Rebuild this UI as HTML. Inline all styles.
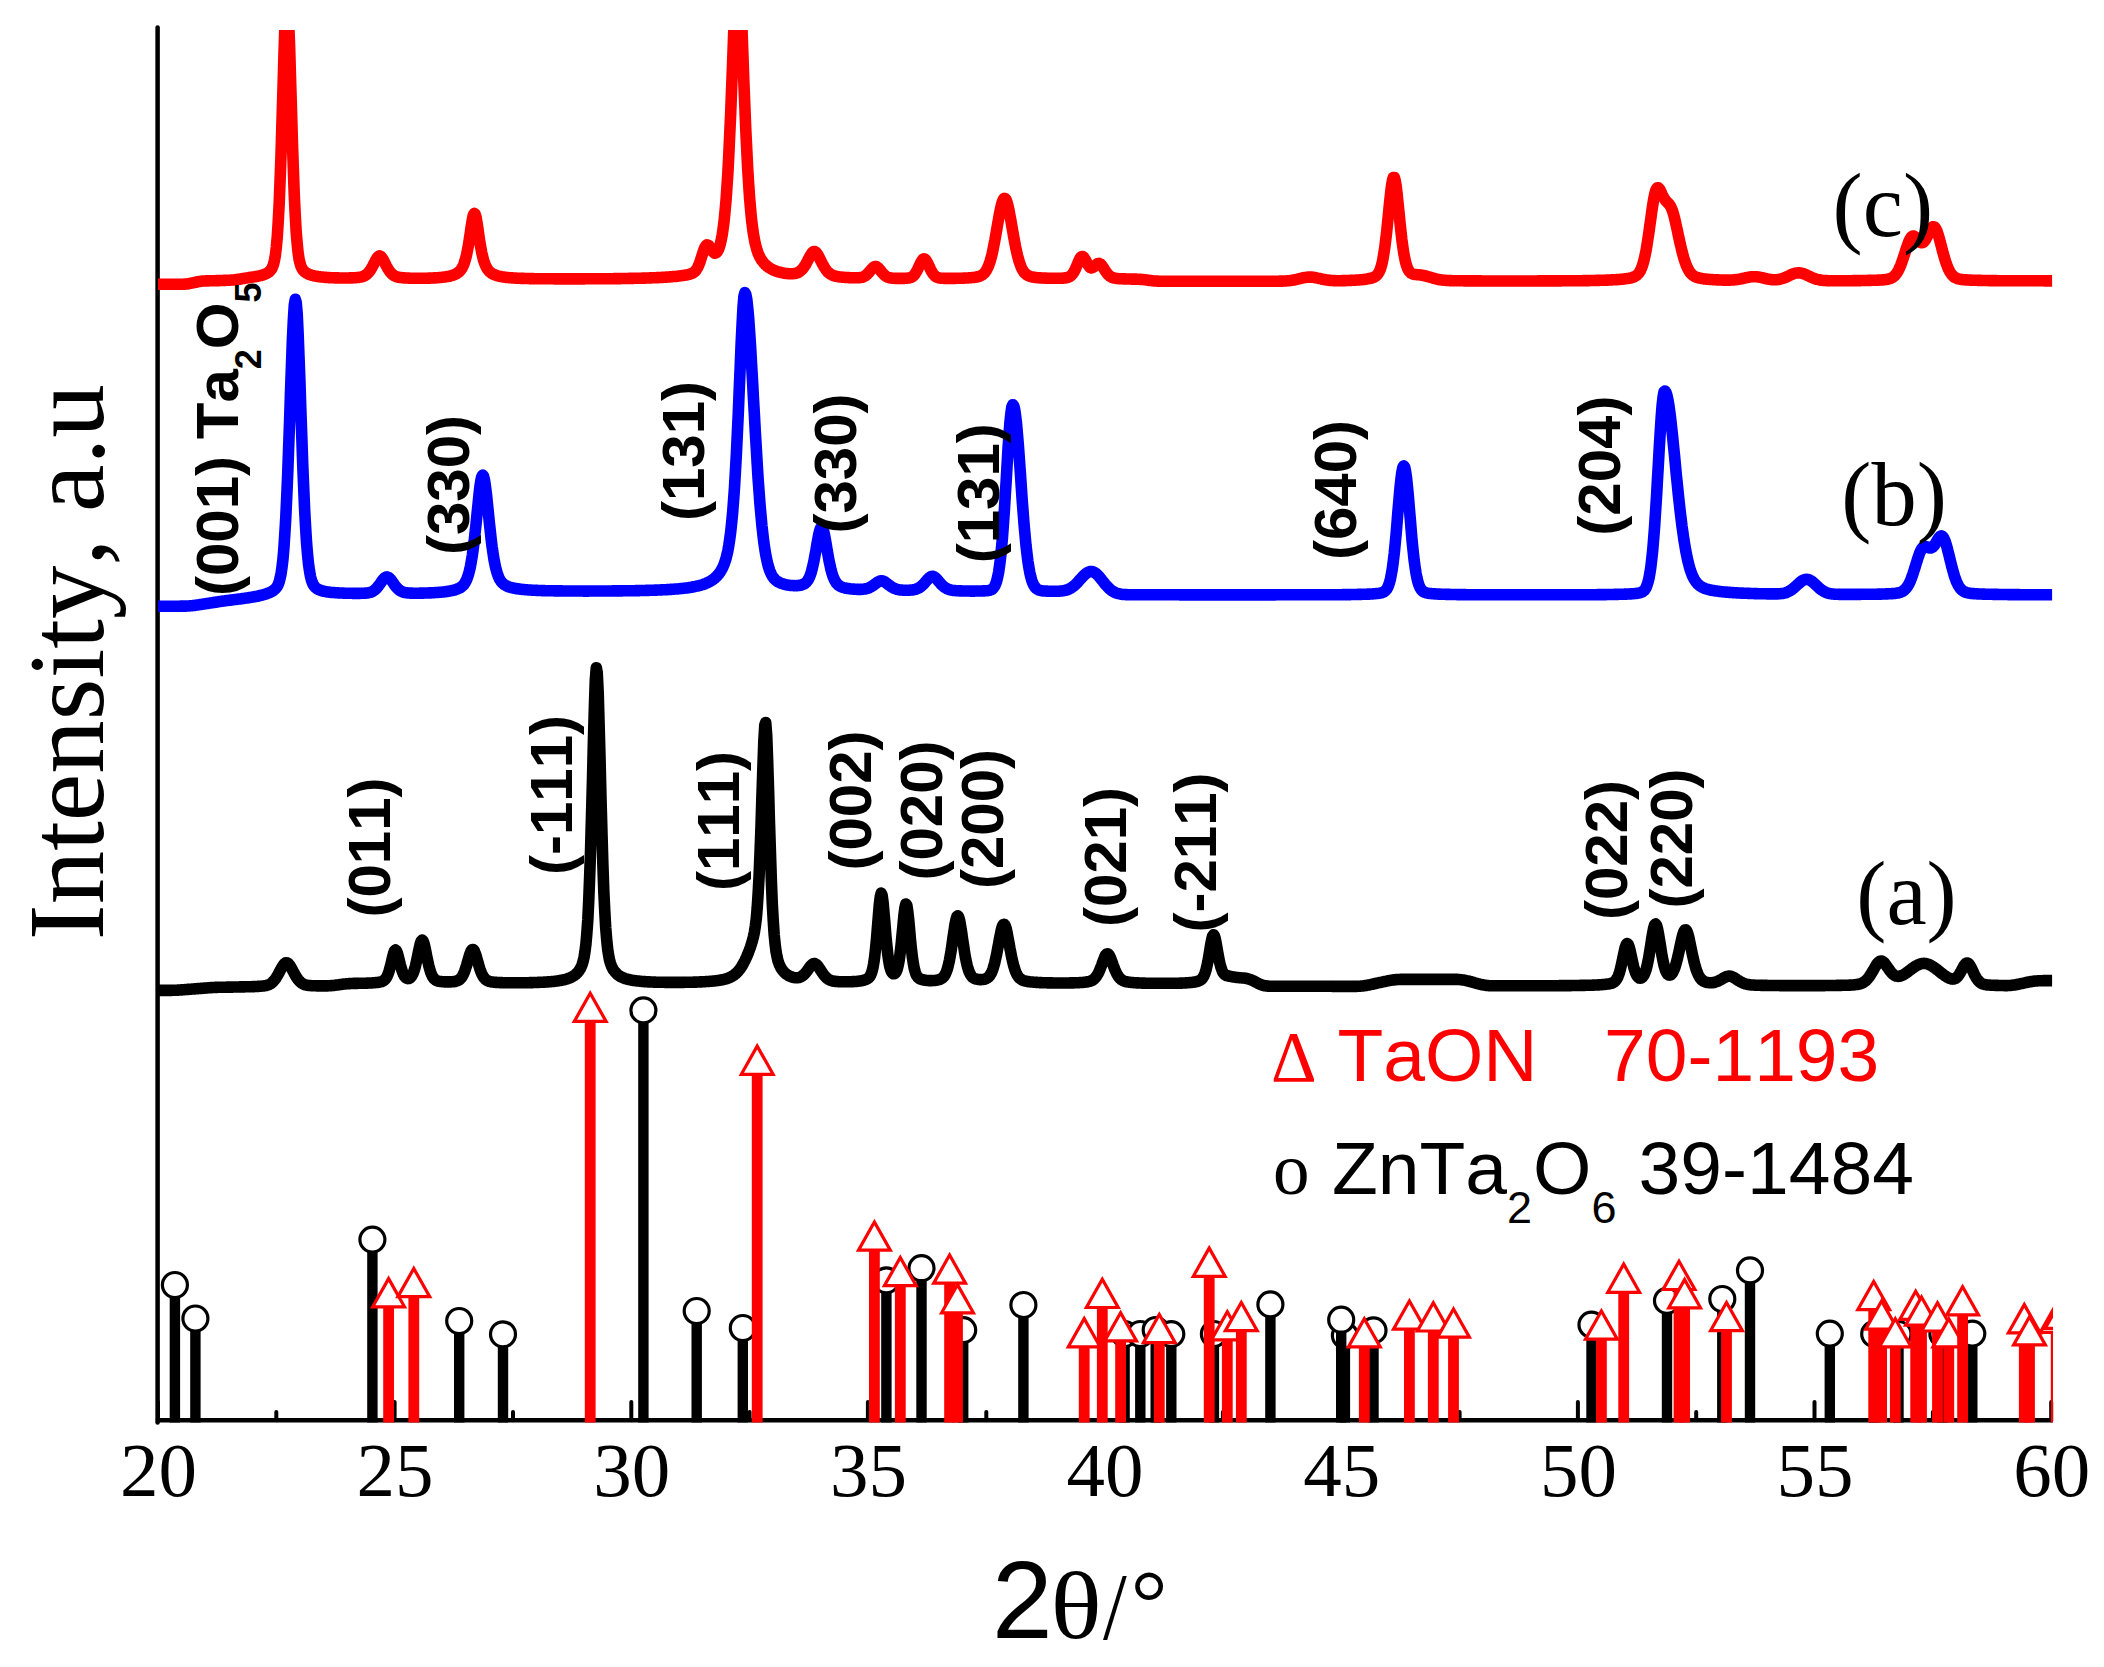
<!DOCTYPE html>
<html><head><meta charset="utf-8"><title>XRD</title>
<style>html,body{margin:0;padding:0;background:#fff}svg{display:block}text{font-kerning:none}</style></head>
<body>
<svg width="2104" height="1667" viewBox="0 0 2104 1667">
<defs><clipPath id="cp"><rect x="150" y="30" width="1902.9" height="1400"/></clipPath></defs>
<rect width="2104" height="1667" fill="#fff"/>
<g stroke="#000" stroke-width="4" stroke-linecap="round">
<line x1="158.0" y1="1420.2" x2="158.0" y2="1402.0"/>
<line x1="276.3" y1="1420.2" x2="276.3" y2="1412.0"/>
<line x1="394.6" y1="1420.2" x2="394.6" y2="1402.0"/>
<line x1="513.0" y1="1420.2" x2="513.0" y2="1412.0"/>
<line x1="631.3" y1="1420.2" x2="631.3" y2="1402.0"/>
<line x1="749.6" y1="1420.2" x2="749.6" y2="1412.0"/>
<line x1="867.9" y1="1420.2" x2="867.9" y2="1402.0"/>
<line x1="986.3" y1="1420.2" x2="986.3" y2="1412.0"/>
<line x1="1104.6" y1="1420.2" x2="1104.6" y2="1402.0"/>
<line x1="1222.9" y1="1420.2" x2="1222.9" y2="1412.0"/>
<line x1="1341.2" y1="1420.2" x2="1341.2" y2="1402.0"/>
<line x1="1459.6" y1="1420.2" x2="1459.6" y2="1412.0"/>
<line x1="1577.9" y1="1420.2" x2="1577.9" y2="1402.0"/>
<line x1="1696.2" y1="1420.2" x2="1696.2" y2="1412.0"/>
<line x1="1814.5" y1="1420.2" x2="1814.5" y2="1402.0"/>
<line x1="1932.9" y1="1420.2" x2="1932.9" y2="1412.0"/>
<line x1="2051.2" y1="1420.2" x2="2051.2" y2="1402.0"/>
</g>
<line x1="157.6" y1="27.5" x2="157.6" y2="1422.5" stroke="#000" stroke-width="4.5" stroke-linecap="round"/>
<line x1="155.8" y1="1420.2" x2="2052.5" y2="1420.2" stroke="#000" stroke-width="4.6"/>
<g clip-path="url(#cp)">
<rect x="169.7" y="1297.0" width="10.4" height="125.5" fill="#000"/>
<circle cx="174.9" cy="1285.0" r="12.5" fill="#fff" stroke="#000" stroke-width="3.2"/>
<rect x="190.2" y="1330.5" width="10.4" height="92.0" fill="#000"/>
<circle cx="195.4" cy="1318.5" r="12.5" fill="#fff" stroke="#000" stroke-width="3.2"/>
<rect x="367.2" y="1251.6" width="10.4" height="170.9" fill="#000"/>
<circle cx="372.4" cy="1239.6" r="12.5" fill="#fff" stroke="#000" stroke-width="3.2"/>
<rect x="454.0" y="1333.0" width="10.4" height="89.5" fill="#000"/>
<circle cx="459.2" cy="1321.0" r="12.5" fill="#fff" stroke="#000" stroke-width="3.2"/>
<rect x="497.8" y="1346.3" width="10.4" height="76.2" fill="#000"/>
<circle cx="503.0" cy="1334.3" r="12.5" fill="#fff" stroke="#000" stroke-width="3.2"/>
<rect x="638.2" y="1022.4" width="10.4" height="400.1" fill="#000"/>
<circle cx="643.4" cy="1010.4" r="12.5" fill="#fff" stroke="#000" stroke-width="3.2"/>
<rect x="691.5" y="1323.0" width="10.4" height="99.5" fill="#000"/>
<circle cx="696.7" cy="1311.0" r="12.5" fill="#fff" stroke="#000" stroke-width="3.2"/>
<rect x="737.6" y="1340.0" width="10.4" height="82.5" fill="#000"/>
<circle cx="742.8" cy="1328.0" r="12.5" fill="#fff" stroke="#000" stroke-width="3.2"/>
<rect x="881.2" y="1292.3" width="10.4" height="130.2" fill="#000"/>
<circle cx="886.4" cy="1280.3" r="12.5" fill="#fff" stroke="#000" stroke-width="3.2"/>
<rect x="916.3" y="1280.2" width="10.4" height="142.3" fill="#000"/>
<circle cx="921.5" cy="1268.2" r="12.5" fill="#fff" stroke="#000" stroke-width="3.2"/>
<rect x="958.0" y="1342.1" width="10.4" height="80.4" fill="#000"/>
<circle cx="963.2" cy="1330.1" r="12.5" fill="#fff" stroke="#000" stroke-width="3.2"/>
<rect x="1018.2" y="1317.0" width="10.4" height="105.5" fill="#000"/>
<circle cx="1023.4" cy="1305.0" r="12.5" fill="#fff" stroke="#000" stroke-width="3.2"/>
<rect x="1119.4" y="1346.0" width="10.4" height="76.5" fill="#000"/>
<circle cx="1124.6" cy="1334.0" r="12.5" fill="#fff" stroke="#000" stroke-width="3.2"/>
<rect x="1135.1" y="1346.0" width="10.4" height="76.5" fill="#000"/>
<circle cx="1140.3" cy="1334.0" r="12.5" fill="#fff" stroke="#000" stroke-width="3.2"/>
<rect x="1150.5" y="1342.0" width="10.4" height="80.5" fill="#000"/>
<circle cx="1155.7" cy="1330.0" r="12.5" fill="#fff" stroke="#000" stroke-width="3.2"/>
<rect x="1166.1" y="1346.1" width="10.4" height="76.4" fill="#000"/>
<circle cx="1171.3" cy="1334.1" r="12.5" fill="#fff" stroke="#000" stroke-width="3.2"/>
<rect x="1208.7" y="1346.0" width="10.4" height="76.5" fill="#000"/>
<circle cx="1213.9" cy="1334.0" r="12.5" fill="#fff" stroke="#000" stroke-width="3.2"/>
<rect x="1265.2" y="1316.4" width="10.4" height="106.1" fill="#000"/>
<circle cx="1270.4" cy="1304.4" r="12.5" fill="#fff" stroke="#000" stroke-width="3.2"/>
<rect x="1339.7" y="1347.5" width="10.4" height="75.0" fill="#000"/>
<circle cx="1344.9" cy="1335.5" r="12.5" fill="#fff" stroke="#000" stroke-width="3.2"/>
<rect x="1336.0" y="1331.7" width="10.4" height="90.8" fill="#000"/>
<circle cx="1341.2" cy="1319.7" r="12.5" fill="#fff" stroke="#000" stroke-width="3.2"/>
<rect x="1368.3" y="1342.4" width="10.4" height="80.1" fill="#000"/>
<circle cx="1373.5" cy="1330.4" r="12.5" fill="#fff" stroke="#000" stroke-width="3.2"/>
<rect x="1586.3" y="1336.7" width="10.4" height="85.8" fill="#000"/>
<circle cx="1591.5" cy="1324.7" r="12.5" fill="#fff" stroke="#000" stroke-width="3.2"/>
<rect x="1661.8" y="1312.8" width="10.4" height="109.7" fill="#000"/>
<circle cx="1667.0" cy="1300.8" r="12.5" fill="#fff" stroke="#000" stroke-width="3.2"/>
<rect x="1717.1" y="1311.0" width="10.4" height="111.5" fill="#000"/>
<circle cx="1722.3" cy="1299.0" r="12.5" fill="#fff" stroke="#000" stroke-width="3.2"/>
<rect x="1744.8" y="1282.4" width="10.4" height="140.1" fill="#000"/>
<circle cx="1750.0" cy="1270.4" r="12.5" fill="#fff" stroke="#000" stroke-width="3.2"/>
<rect x="1824.6" y="1345.6" width="10.4" height="76.9" fill="#000"/>
<circle cx="1829.8" cy="1333.6" r="12.5" fill="#fff" stroke="#000" stroke-width="3.2"/>
<rect x="1869.0" y="1346.0" width="10.4" height="76.5" fill="#000"/>
<circle cx="1874.2" cy="1334.0" r="12.5" fill="#fff" stroke="#000" stroke-width="3.2"/>
<rect x="1893.3" y="1346.0" width="10.4" height="76.5" fill="#000"/>
<circle cx="1898.5" cy="1334.0" r="12.5" fill="#fff" stroke="#000" stroke-width="3.2"/>
<rect x="1937.2" y="1346.0" width="10.4" height="76.5" fill="#000"/>
<circle cx="1942.4" cy="1334.0" r="12.5" fill="#fff" stroke="#000" stroke-width="3.2"/>
<rect x="1967.1" y="1345.6" width="10.4" height="76.9" fill="#000"/>
<circle cx="1972.3" cy="1333.6" r="12.5" fill="#fff" stroke="#000" stroke-width="3.2"/>
<rect x="383.2" y="1307.4" width="10.8" height="115.1" fill="#f00"/>
<polygon points="372.7,1306.8 404.5,1306.8 388.6,1278.6" fill="#fff" stroke="#f00" stroke-width="3.2" stroke-linejoin="miter"/>
<rect x="408.4" y="1297.3" width="10.8" height="125.2" fill="#f00"/>
<polygon points="397.9,1296.7 429.7,1296.7 413.8,1268.5" fill="#fff" stroke="#f00" stroke-width="3.2" stroke-linejoin="miter"/>
<rect x="584.8" y="1022.0" width="10.8" height="400.5" fill="#f00"/>
<polygon points="574.3,1021.4 606.1,1021.4 590.2,993.2" fill="#fff" stroke="#f00" stroke-width="3.2" stroke-linejoin="miter"/>
<rect x="751.8" y="1074.9" width="10.8" height="347.6" fill="#f00"/>
<polygon points="741.3,1074.3 773.1,1074.3 757.2,1046.1" fill="#fff" stroke="#f00" stroke-width="3.2" stroke-linejoin="miter"/>
<rect x="869.0" y="1250.7" width="10.8" height="171.8" fill="#f00"/>
<polygon points="858.5,1250.1 890.3,1250.1 874.4,1221.9" fill="#fff" stroke="#f00" stroke-width="3.2" stroke-linejoin="miter"/>
<rect x="894.9" y="1286.3" width="10.8" height="136.2" fill="#f00"/>
<polygon points="884.4,1285.7 916.2,1285.7 900.3,1257.5" fill="#fff" stroke="#f00" stroke-width="3.2" stroke-linejoin="miter"/>
<rect x="944.2" y="1283.8" width="10.8" height="138.7" fill="#f00"/>
<polygon points="933.7,1283.2 965.5,1283.2 949.6,1255.0" fill="#fff" stroke="#f00" stroke-width="3.2" stroke-linejoin="miter"/>
<rect x="952.1" y="1313.4" width="10.8" height="109.1" fill="#f00"/>
<polygon points="941.6,1312.8 973.4,1312.8 957.5,1284.6" fill="#fff" stroke="#f00" stroke-width="3.2" stroke-linejoin="miter"/>
<rect x="1078.8" y="1347.4" width="10.8" height="75.1" fill="#f00"/>
<polygon points="1068.3,1346.8 1100.1,1346.8 1084.2,1318.6" fill="#fff" stroke="#f00" stroke-width="3.2" stroke-linejoin="miter"/>
<rect x="1096.9" y="1308.1" width="10.8" height="114.4" fill="#f00"/>
<polygon points="1086.4,1307.5 1118.2,1307.5 1102.3,1279.3" fill="#fff" stroke="#f00" stroke-width="3.2" stroke-linejoin="miter"/>
<rect x="1115.2" y="1341.5" width="10.8" height="81.0" fill="#f00"/>
<polygon points="1104.7,1340.9 1136.5,1340.9 1120.6,1312.7" fill="#fff" stroke="#f00" stroke-width="3.2" stroke-linejoin="miter"/>
<rect x="1153.9" y="1343.3" width="10.8" height="79.2" fill="#f00"/>
<polygon points="1143.4,1342.7 1175.2,1342.7 1159.3,1314.5" fill="#fff" stroke="#f00" stroke-width="3.2" stroke-linejoin="miter"/>
<rect x="1203.8" y="1276.9" width="10.8" height="145.6" fill="#f00"/>
<polygon points="1193.3,1276.3 1225.1,1276.3 1209.2,1248.1" fill="#fff" stroke="#f00" stroke-width="3.2" stroke-linejoin="miter"/>
<rect x="1221.9" y="1340.5" width="10.8" height="82.0" fill="#f00"/>
<polygon points="1211.4,1339.9 1243.2,1339.9 1227.3,1311.7" fill="#fff" stroke="#f00" stroke-width="3.2" stroke-linejoin="miter"/>
<rect x="1235.9" y="1331.3" width="10.8" height="91.2" fill="#f00"/>
<polygon points="1225.4,1330.7 1257.2,1330.7 1241.3,1302.5" fill="#fff" stroke="#f00" stroke-width="3.2" stroke-linejoin="miter"/>
<rect x="1358.9" y="1347.5" width="10.8" height="75.0" fill="#f00"/>
<polygon points="1348.4,1346.9 1380.2,1346.9 1364.3,1318.7" fill="#fff" stroke="#f00" stroke-width="3.2" stroke-linejoin="miter"/>
<rect x="1404.0" y="1329.7" width="10.8" height="92.8" fill="#f00"/>
<polygon points="1393.5,1329.1 1425.3,1329.1 1409.4,1300.9" fill="#fff" stroke="#f00" stroke-width="3.2" stroke-linejoin="miter"/>
<rect x="1427.9" y="1331.6" width="10.8" height="90.9" fill="#f00"/>
<polygon points="1417.4,1331.0 1449.2,1331.0 1433.3,1302.8" fill="#fff" stroke="#f00" stroke-width="3.2" stroke-linejoin="miter"/>
<rect x="1448.1" y="1337.8" width="10.8" height="84.7" fill="#f00"/>
<polygon points="1437.6,1337.2 1469.4,1337.2 1453.5,1309.0" fill="#fff" stroke="#f00" stroke-width="3.2" stroke-linejoin="miter"/>
<rect x="1596.0" y="1339.7" width="10.8" height="82.8" fill="#f00"/>
<polygon points="1585.5,1339.1 1617.3,1339.1 1601.4,1310.9" fill="#fff" stroke="#f00" stroke-width="3.2" stroke-linejoin="miter"/>
<rect x="1618.3" y="1292.9" width="10.8" height="129.6" fill="#f00"/>
<polygon points="1607.8,1292.3 1639.6,1292.3 1623.7,1264.1" fill="#fff" stroke="#f00" stroke-width="3.2" stroke-linejoin="miter"/>
<rect x="1673.6" y="1290.1" width="10.8" height="132.4" fill="#f00"/>
<polygon points="1663.1,1289.5 1694.9,1289.5 1679.0,1261.3" fill="#fff" stroke="#f00" stroke-width="3.2" stroke-linejoin="miter"/>
<rect x="1679.2" y="1308.4" width="10.8" height="114.1" fill="#f00"/>
<polygon points="1668.7,1307.8 1700.5,1307.8 1684.6,1279.6" fill="#fff" stroke="#f00" stroke-width="3.2" stroke-linejoin="miter"/>
<rect x="1721.1" y="1331.3" width="10.8" height="91.2" fill="#f00"/>
<polygon points="1710.6,1330.7 1742.4,1330.7 1726.5,1302.5" fill="#fff" stroke="#f00" stroke-width="3.2" stroke-linejoin="miter"/>
<rect x="1868.3" y="1310.3" width="10.8" height="112.2" fill="#f00"/>
<polygon points="1857.8,1309.7 1889.6,1309.7 1873.7,1281.5" fill="#fff" stroke="#f00" stroke-width="3.2" stroke-linejoin="miter"/>
<rect x="1876.2" y="1329.7" width="10.8" height="92.8" fill="#f00"/>
<polygon points="1865.7,1329.1 1897.5,1329.1 1881.6,1300.9" fill="#fff" stroke="#f00" stroke-width="3.2" stroke-linejoin="miter"/>
<rect x="1889.9" y="1347.5" width="10.8" height="75.0" fill="#f00"/>
<polygon points="1879.4,1346.9 1911.2,1346.9 1895.3,1318.7" fill="#fff" stroke="#f00" stroke-width="3.2" stroke-linejoin="miter"/>
<rect x="1910.3" y="1320.0" width="10.8" height="102.5" fill="#f00"/>
<polygon points="1899.8,1319.4 1931.6,1319.4 1915.7,1291.2" fill="#fff" stroke="#f00" stroke-width="3.2" stroke-linejoin="miter"/>
<rect x="1916.1" y="1325.7" width="10.8" height="96.8" fill="#f00"/>
<polygon points="1905.6,1325.1 1937.4,1325.1 1921.5,1296.9" fill="#fff" stroke="#f00" stroke-width="3.2" stroke-linejoin="miter"/>
<rect x="1932.1" y="1331.6" width="10.8" height="90.9" fill="#f00"/>
<polygon points="1921.6,1331.0 1953.4,1331.0 1937.5,1302.8" fill="#fff" stroke="#f00" stroke-width="3.2" stroke-linejoin="miter"/>
<rect x="1943.4" y="1347.5" width="10.8" height="75.0" fill="#f00"/>
<polygon points="1932.9,1346.9 1964.7,1346.9 1948.8,1318.7" fill="#fff" stroke="#f00" stroke-width="3.2" stroke-linejoin="miter"/>
<rect x="1957.2" y="1315.5" width="10.8" height="107.0" fill="#f00"/>
<polygon points="1946.7,1314.9 1978.5,1314.9 1962.6,1286.7" fill="#fff" stroke="#f00" stroke-width="3.2" stroke-linejoin="miter"/>
<rect x="2018.9" y="1333.4" width="10.8" height="89.1" fill="#f00"/>
<polygon points="2008.4,1332.8 2040.2,1332.8 2024.3,1304.6" fill="#fff" stroke="#f00" stroke-width="3.2" stroke-linejoin="miter"/>
<rect x="2024.1" y="1345.5" width="10.8" height="77.0" fill="#f00"/>
<polygon points="2013.6,1344.9 2045.4,1344.9 2029.5,1316.7" fill="#fff" stroke="#f00" stroke-width="3.2" stroke-linejoin="miter"/>
<rect x="2050.8" y="1333.0" width="10.8" height="89.5" fill="#f00"/>
<polygon points="2040.3,1332.4 2072.1,1332.4 2056.2,1304.2" fill="#fff" stroke="#f00" stroke-width="3.2" stroke-linejoin="miter"/>
<rect x="2055.6" y="1329.0" width="10.8" height="93.5" fill="#f00"/>
<polygon points="2045.1,1328.4 2076.9,1328.4 2061.0,1300.2" fill="#fff" stroke="#f00" stroke-width="3.2" stroke-linejoin="miter"/>
</g>
<g clip-path="url(#cp)" fill="none" stroke-width="11.6" stroke-linejoin="round" stroke-linecap="butt">
<path d="M158.0 990.4 L158.9 990.4 L159.9 990.4 L160.8 990.4 L161.8 990.4 L162.7 990.4 L163.7 990.4 L164.6 990.4 L165.6 990.4 L166.5 990.4 L167.5 990.4 L168.4 990.4 L169.4 990.4 L170.3 990.4 L171.3 990.4 L172.2 990.3 L173.1 990.3 L174.1 990.3 L175.0 990.2 L176.0 990.2 L176.9 990.2 L177.9 990.1 L178.8 990.1 L179.8 990.0 L180.7 989.9 L181.7 989.9 L182.6 989.8 L183.6 989.7 L184.5 989.7 L185.5 989.6 L186.4 989.5 L187.3 989.4 L188.3 989.4 L189.2 989.3 L190.2 989.2 L191.1 989.2 L192.1 989.1 L193.0 989.0 L194.0 988.9 L194.9 988.9 L195.9 988.8 L196.8 988.7 L197.8 988.6 L198.7 988.6 L199.7 988.5 L200.6 988.4 L201.5 988.4 L202.5 988.3 L203.4 988.2 L204.4 988.1 L205.3 988.1 L206.3 988.0 L207.2 987.9 L208.2 987.8 L209.1 987.8 L210.1 987.7 L211.0 987.6 L212.0 987.6 L212.9 987.5 L213.8 987.5 L214.8 987.4 L215.7 987.4 L216.7 987.4 L217.6 987.3 L218.6 987.3 L219.5 987.3 L220.5 987.2 L221.4 987.2 L222.4 987.2 L223.3 987.2 L224.3 987.2 L225.2 987.2 L226.2 987.2 L227.1 987.1 L228.0 987.1 L229.0 987.1 L229.9 987.1 L230.9 987.1 L231.8 987.1 L232.8 987.1 L233.7 987.0 L234.7 987.0 L235.6 987.0 L236.6 987.0 L237.5 987.0 L238.5 987.0 L239.4 986.9 L240.4 986.9 L241.3 986.9 L242.2 986.9 L243.2 986.9 L244.1 986.9 L245.1 986.8 L246.0 986.8 L247.0 986.8 L247.9 986.8 L248.9 986.7 L249.8 986.7 L250.8 986.7 L251.7 986.7 L252.7 986.6 L253.6 986.6 L254.6 986.6 L255.5 986.5 L256.4 986.5 L257.4 986.4 L258.3 986.4 L259.3 986.3 L260.2 986.3 L261.2 986.2 L262.1 986.1 L263.1 986.0 L264.0 985.9 L265.0 985.7 L265.9 985.6 L266.9 985.3 L267.8 985.0 L268.8 984.7 L269.7 984.2 L270.6 983.7 L271.6 983.0 L272.5 982.2 L273.5 981.2 L274.4 980.1 L275.4 978.9 L276.3 977.4 L277.3 975.9 L278.2 974.2 L279.2 972.4 L280.1 970.6 L281.1 968.8 L282.0 967.1 L283.0 965.6 L283.9 964.3 L284.8 963.4 L285.8 962.8 L286.7 962.7 L287.7 963.1 L288.6 963.9 L289.6 965.1 L290.5 966.6 L291.5 968.2 L292.4 970.0 L293.4 971.8 L294.3 973.5 L295.3 975.2 L296.2 976.8 L297.2 978.3 L298.1 979.6 L299.0 980.7 L300.0 981.7 L300.9 982.5 L301.9 983.2 L302.8 983.7 L303.8 984.2 L304.7 984.6 L305.7 984.9 L306.6 985.1 L307.6 985.3 L308.5 985.4 L309.5 985.5 L310.4 985.6 L311.3 985.7 L312.3 985.7 L313.2 985.8 L314.2 985.8 L315.1 985.8 L316.1 985.8 L317.0 985.9 L318.0 985.9 L318.9 985.9 L319.9 985.9 L320.8 985.9 L321.8 985.9 L322.7 985.9 L323.7 985.9 L324.6 985.9 L325.5 985.9 L326.5 985.9 L327.4 985.9 L328.4 985.8 L329.3 985.8 L330.3 985.7 L331.2 985.6 L332.2 985.6 L333.1 985.5 L334.1 985.4 L335.0 985.3 L336.0 985.1 L336.9 985.0 L337.9 984.9 L338.8 984.8 L339.7 984.6 L340.7 984.5 L341.6 984.4 L342.6 984.2 L343.5 984.1 L344.5 984.0 L345.4 983.9 L346.4 983.8 L347.3 983.8 L348.3 983.7 L349.2 983.6 L350.2 983.6 L351.1 983.5 L352.1 983.5 L353.0 983.4 L353.9 983.4 L354.9 983.4 L355.8 983.4 L356.8 983.4 L357.7 983.3 L358.7 983.3 L359.6 983.3 L360.6 983.3 L361.5 983.3 L362.5 983.3 L363.4 983.2 L364.4 983.2 L365.3 983.2 L366.3 983.2 L367.2 983.1 L368.1 983.1 L369.1 983.0 L370.0 983.0 L371.0 983.0 L371.9 982.9 L372.9 982.8 L373.8 982.8 L374.8 982.7 L375.7 982.6 L376.7 982.5 L377.6 982.4 L378.6 982.3 L379.5 982.1 L380.5 981.9 L381.4 981.7 L382.3 981.4 L383.3 980.9 L384.2 980.2 L385.2 979.3 L386.1 978.1 L387.1 976.4 L388.0 974.2 L389.0 971.4 L389.9 968.1 L390.9 964.4 L391.8 960.4 L392.8 956.4 L393.7 953.0 L394.6 950.7 L395.6 950.0 L396.5 950.9 L397.5 953.4 L398.4 956.9 L399.4 960.7 L400.3 964.6 L401.3 968.1 L402.2 971.2 L403.2 973.7 L404.1 975.6 L405.1 977.0 L406.0 977.9 L407.0 978.4 L407.9 978.6 L408.8 978.5 L409.8 978.1 L410.7 977.3 L411.7 976.1 L412.6 974.4 L413.6 972.2 L414.5 969.3 L415.5 965.8 L416.4 961.8 L417.4 957.3 L418.3 952.6 L419.3 948.0 L420.2 944.0 L421.2 941.2 L422.1 940.1 L423.0 940.9 L424.0 943.4 L424.9 947.2 L425.9 951.8 L426.8 956.5 L427.8 961.2 L428.7 965.4 L429.7 969.1 L430.6 972.2 L431.6 974.6 L432.5 976.5 L433.5 978.0 L434.4 979.0 L435.4 979.8 L436.3 980.4 L437.2 980.8 L438.2 981.1 L439.1 981.3 L440.1 981.4 L441.0 981.6 L442.0 981.7 L442.9 981.8 L443.9 981.8 L444.8 981.9 L445.8 981.9 L446.7 981.9 L447.7 981.9 L448.6 981.9 L449.6 981.9 L450.5 981.9 L451.4 981.8 L452.4 981.7 L453.3 981.7 L454.3 981.5 L455.2 981.4 L456.2 981.1 L457.1 980.8 L458.1 980.4 L459.0 979.9 L460.0 979.2 L460.9 978.2 L461.9 977.0 L462.8 975.4 L463.8 973.4 L464.7 971.1 L465.6 968.4 L466.6 965.4 L467.5 962.1 L468.5 958.7 L469.4 955.5 L470.4 952.7 L471.3 950.6 L472.3 949.5 L473.2 949.5 L474.2 950.7 L475.1 953.0 L476.1 955.8 L477.0 959.1 L478.0 962.5 L478.9 965.7 L479.8 968.7 L480.8 971.4 L481.7 973.7 L482.7 975.6 L483.6 977.2 L484.6 978.4 L485.5 979.4 L486.5 980.1 L487.4 980.7 L488.4 981.1 L489.3 981.4 L490.3 981.6 L491.2 981.8 L492.1 982.0 L493.1 982.1 L494.0 982.2 L495.0 982.3 L495.9 982.4 L496.9 982.4 L497.8 982.5 L498.8 982.5 L499.7 982.6 L500.7 982.6 L501.6 982.6 L502.6 982.7 L503.5 982.7 L504.5 982.7 L505.4 982.7 L506.3 982.8 L507.3 982.8 L508.2 982.8 L509.2 982.8 L510.1 982.8 L511.1 982.8 L512.0 982.8 L513.0 982.8 L513.9 982.8 L514.9 982.8 L515.8 982.8 L516.8 982.8 L517.7 982.8 L518.7 982.8 L519.6 982.8 L520.5 982.8 L521.5 982.8 L522.4 982.8 L523.4 982.8 L524.3 982.8 L525.3 982.7 L526.2 982.7 L527.2 982.7 L528.1 982.7 L529.1 982.7 L530.0 982.6 L531.0 982.6 L531.9 982.6 L532.9 982.6 L533.8 982.5 L534.7 982.5 L535.7 982.5 L536.6 982.5 L537.6 982.4 L538.5 982.4 L539.5 982.3 L540.4 982.3 L541.4 982.3 L542.3 982.2 L543.3 982.2 L544.2 982.1 L545.2 982.1 L546.1 982.0 L547.1 981.9 L548.0 981.9 L548.9 981.8 L549.9 981.7 L550.8 981.7 L551.8 981.6 L552.7 981.5 L553.7 981.4 L554.6 981.3 L555.6 981.2 L556.5 981.1 L557.5 980.9 L558.4 980.8 L559.4 980.6 L560.3 980.5 L561.3 980.3 L562.2 980.1 L563.1 979.9 L564.1 979.7 L565.0 979.5 L566.0 979.2 L566.9 978.9 L567.9 978.6 L568.8 978.3 L569.8 977.9 L570.7 977.5 L571.7 977.0 L572.6 976.5 L573.6 975.9 L574.5 975.3 L575.5 974.6 L576.4 973.7 L577.3 972.8 L578.3 971.7 L579.2 970.4 L580.2 968.9 L581.1 967.0 L582.1 964.7 L583.0 961.6 L584.0 957.5 L584.9 952.0 L585.9 944.3 L586.8 933.9 L587.8 919.9 L588.7 901.4 L589.6 878.1 L590.6 849.5 L591.5 816.3 L592.5 779.5 L593.4 741.7 L594.4 706.8 L595.3 680.2 L596.3 667.7 L597.2 672.3 L598.2 692.8 L599.1 724.5 L600.1 761.5 L601.0 799.1 L602.0 834.3 L602.9 865.2 L603.8 891.0 L604.8 911.7 L605.7 927.7 L606.7 939.7 L607.6 948.6 L608.6 955.1 L609.5 959.8 L610.5 963.3 L611.4 965.9 L612.4 968.0 L613.3 969.7 L614.3 971.0 L615.2 972.2 L616.2 973.2 L617.1 974.1 L618.0 974.9 L619.0 975.6 L619.9 976.2 L620.9 976.7 L621.8 977.2 L622.8 977.6 L623.7 978.0 L624.7 978.4 L625.6 978.7 L626.6 979.0 L627.5 979.2 L628.5 979.5 L629.4 979.7 L630.4 979.9 L631.3 980.1 L632.2 980.3 L633.2 980.4 L634.1 980.6 L635.1 980.7 L636.0 980.8 L637.0 980.9 L637.9 981.0 L638.9 981.1 L639.8 981.2 L640.8 981.3 L641.7 981.4 L642.7 981.5 L643.6 981.6 L644.6 981.6 L645.5 981.7 L646.4 981.7 L647.4 981.8 L648.3 981.9 L649.3 981.9 L650.2 981.9 L651.2 982.0 L652.1 982.0 L653.1 982.1 L654.0 982.1 L655.0 982.1 L655.9 982.2 L656.9 982.2 L657.8 982.2 L658.8 982.2 L659.7 982.3 L660.6 982.3 L661.6 982.3 L662.5 982.3 L663.5 982.3 L664.4 982.3 L665.4 982.4 L666.3 982.4 L667.3 982.4 L668.2 982.4 L669.2 982.4 L670.1 982.4 L671.1 982.4 L672.0 982.4 L673.0 982.4 L673.9 982.4 L674.8 982.4 L675.8 982.4 L676.7 982.4 L677.7 982.4 L678.6 982.4 L679.6 982.4 L680.5 982.4 L681.5 982.4 L682.4 982.4 L683.4 982.4 L684.3 982.3 L685.3 982.3 L686.2 982.3 L687.1 982.3 L688.1 982.3 L689.0 982.3 L690.0 982.2 L690.9 982.2 L691.9 982.2 L692.8 982.2 L693.8 982.1 L694.7 982.1 L695.7 982.1 L696.6 982.1 L697.6 982.0 L698.5 982.0 L699.5 981.9 L700.4 981.9 L701.3 981.9 L702.3 981.8 L703.2 981.8 L704.2 981.7 L705.1 981.7 L706.1 981.6 L707.0 981.5 L708.0 981.5 L708.9 981.4 L709.9 981.3 L710.8 981.3 L711.8 981.2 L712.7 981.1 L713.7 981.0 L714.6 980.9 L715.5 980.8 L716.5 980.7 L717.4 980.6 L718.4 980.4 L719.3 980.3 L720.3 980.1 L721.2 980.0 L722.2 979.8 L723.1 979.6 L724.1 979.4 L725.0 979.1 L726.0 978.9 L726.9 978.6 L727.9 978.3 L728.8 977.9 L729.7 977.5 L730.7 977.0 L731.6 976.5 L732.6 976.0 L733.5 975.4 L734.5 974.7 L735.4 973.9 L736.4 973.1 L737.3 972.1 L738.3 971.1 L739.2 969.9 L740.2 968.7 L741.1 967.3 L742.1 965.8 L743.0 964.2 L743.9 962.5 L744.9 960.6 L745.8 958.6 L746.8 956.5 L747.7 954.3 L748.7 951.9 L749.6 949.4 L750.6 946.7 L751.5 943.7 L752.5 940.5 L753.4 936.8 L754.4 932.2 L755.3 926.3 L756.3 918.5 L757.2 908.1 L758.1 894.1 L759.1 876.0 L760.0 853.4 L761.0 826.7 L761.9 797.2 L762.9 767.5 L763.8 741.7 L764.8 725.1 L765.7 722.5 L766.7 735.1 L767.6 759.7 L768.6 790.9 L769.5 823.7 L770.5 854.6 L771.4 881.7 L772.3 904.1 L773.3 921.7 L774.2 935.0 L775.2 944.8 L776.1 951.9 L777.1 957.0 L778.0 960.8 L779.0 963.7 L779.9 965.9 L780.9 967.8 L781.8 969.3 L782.8 970.6 L783.7 971.7 L784.6 972.7 L785.6 973.5 L786.5 974.3 L787.5 974.9 L788.4 975.5 L789.4 976.0 L790.3 976.4 L791.3 976.8 L792.2 977.1 L793.2 977.4 L794.1 977.6 L795.1 977.7 L796.0 977.8 L797.0 977.8 L797.9 977.7 L798.8 977.6 L799.8 977.3 L800.7 976.9 L801.7 976.4 L802.6 975.7 L803.6 974.9 L804.5 974.0 L805.5 972.9 L806.4 971.7 L807.4 970.5 L808.3 969.1 L809.3 967.8 L810.2 966.5 L811.2 965.4 L812.1 964.5 L813.0 963.8 L814.0 963.5 L814.9 963.6 L815.9 964.1 L816.8 964.9 L817.8 966.0 L818.7 967.3 L819.7 968.7 L820.6 970.2 L821.6 971.6 L822.5 973.0 L823.5 974.4 L824.4 975.6 L825.4 976.7 L826.3 977.6 L827.2 978.4 L828.2 979.1 L829.1 979.7 L830.1 980.1 L831.0 980.5 L832.0 980.8 L832.9 981.0 L833.9 981.2 L834.8 981.3 L835.8 981.5 L836.7 981.5 L837.7 981.6 L838.6 981.7 L839.6 981.7 L840.5 981.7 L841.4 981.8 L842.4 981.8 L843.3 981.8 L844.3 981.8 L845.2 981.8 L846.2 981.8 L847.1 981.8 L848.1 981.8 L849.0 981.8 L850.0 981.7 L850.9 981.7 L851.9 981.7 L852.8 981.6 L853.8 981.6 L854.7 981.5 L855.6 981.5 L856.6 981.4 L857.5 981.3 L858.5 981.2 L859.4 981.1 L860.4 980.9 L861.3 980.8 L862.3 980.6 L863.2 980.4 L864.2 980.1 L865.1 979.8 L866.1 979.5 L867.0 979.0 L868.0 978.4 L868.9 977.6 L869.8 976.5 L870.8 974.8 L871.7 972.4 L872.7 968.9 L873.6 964.0 L874.6 957.5 L875.5 949.1 L876.5 939.0 L877.4 927.6 L878.4 915.7 L879.3 904.7 L880.3 896.6 L881.2 893.1 L882.1 895.3 L883.1 902.5 L884.0 912.8 L885.0 924.5 L885.9 935.9 L886.9 946.1 L887.8 954.7 L888.8 961.3 L889.7 966.3 L890.7 969.7 L891.6 971.9 L892.6 973.2 L893.5 973.8 L894.5 973.7 L895.4 973.0 L896.3 971.5 L897.3 969.0 L898.2 965.3 L899.2 960.2 L900.1 953.4 L901.1 945.0 L902.0 935.4 L903.0 925.2 L903.9 915.5 L904.9 907.8 L905.8 904.0 L906.8 905.1 L907.7 910.8 L908.7 919.6 L909.6 929.8 L910.5 940.1 L911.5 949.5 L912.4 957.5 L913.4 963.9 L914.3 968.7 L915.3 972.2 L916.2 974.7 L917.2 976.4 L918.1 977.5 L919.1 978.3 L920.0 978.9 L921.0 979.3 L921.9 979.6 L922.9 979.8 L923.8 980.0 L924.7 980.2 L925.7 980.3 L926.6 980.4 L927.6 980.5 L928.5 980.6 L929.5 980.6 L930.4 980.6 L931.4 980.6 L932.3 980.6 L933.3 980.5 L934.2 980.5 L935.2 980.4 L936.1 980.3 L937.1 980.1 L938.0 979.9 L938.9 979.7 L939.9 979.4 L940.8 978.9 L941.8 978.4 L942.7 977.7 L943.7 976.7 L944.6 975.4 L945.6 973.6 L946.5 971.4 L947.5 968.5 L948.4 964.9 L949.4 960.6 L950.3 955.5 L951.3 949.7 L952.2 943.4 L953.1 936.8 L954.1 930.3 L955.0 924.3 L956.0 919.6 L956.9 916.6 L957.9 915.8 L958.8 917.4 L959.8 921.1 L960.7 926.4 L961.7 932.6 L962.6 939.2 L963.6 945.7 L964.5 951.8 L965.4 957.3 L966.4 962.1 L967.3 966.1 L968.3 969.4 L969.2 972.0 L970.2 974.1 L971.1 975.6 L972.1 976.8 L973.0 977.6 L974.0 978.2 L974.9 978.7 L975.9 979.0 L976.8 979.2 L977.8 979.4 L978.7 979.5 L979.6 979.6 L980.6 979.6 L981.5 979.6 L982.5 979.5 L983.4 979.4 L984.4 979.2 L985.3 978.9 L986.3 978.5 L987.2 978.0 L988.2 977.3 L989.1 976.4 L990.1 975.1 L991.0 973.6 L992.0 971.6 L992.9 969.1 L993.8 966.1 L994.8 962.6 L995.7 958.5 L996.7 954.0 L997.6 949.1 L998.6 943.9 L999.5 938.7 L1000.5 933.8 L1001.4 929.5 L1002.4 926.3 L1003.3 924.4 L1004.3 924.3 L1005.2 925.8 L1006.2 928.7 L1007.1 932.8 L1008.0 937.7 L1009.0 942.9 L1009.9 948.1 L1010.9 953.2 L1011.8 957.9 L1012.8 962.1 L1013.7 965.8 L1014.7 969.0 L1015.6 971.6 L1016.6 973.8 L1017.5 975.5 L1018.5 976.9 L1019.4 978.0 L1020.4 978.8 L1021.3 979.5 L1022.2 980.0 L1023.2 980.4 L1024.1 980.7 L1025.1 981.0 L1026.0 981.2 L1027.0 981.4 L1027.9 981.5 L1028.9 981.7 L1029.8 981.8 L1030.8 981.9 L1031.7 982.0 L1032.7 982.1 L1033.6 982.2 L1034.6 982.3 L1035.5 982.3 L1036.4 982.4 L1037.4 982.4 L1038.3 982.5 L1039.3 982.6 L1040.2 982.6 L1041.2 982.6 L1042.1 982.7 L1043.1 982.7 L1044.0 982.7 L1045.0 982.8 L1045.9 982.8 L1046.9 982.8 L1047.8 982.9 L1048.8 982.9 L1049.7 982.9 L1050.6 982.9 L1051.6 982.9 L1052.5 982.9 L1053.5 983.0 L1054.4 983.0 L1055.4 983.0 L1056.3 983.0 L1057.3 983.0 L1058.2 983.0 L1059.2 983.0 L1060.1 983.0 L1061.1 983.0 L1062.0 983.0 L1062.9 983.0 L1063.9 983.0 L1064.8 983.0 L1065.8 983.0 L1066.7 983.0 L1067.7 983.0 L1068.6 983.0 L1069.6 982.9 L1070.5 982.9 L1071.5 982.9 L1072.4 982.9 L1073.4 982.9 L1074.3 982.8 L1075.3 982.8 L1076.2 982.8 L1077.1 982.7 L1078.1 982.7 L1079.0 982.7 L1080.0 982.6 L1080.9 982.5 L1081.9 982.5 L1082.8 982.4 L1083.8 982.3 L1084.7 982.2 L1085.7 982.1 L1086.6 982.0 L1087.6 981.8 L1088.5 981.6 L1089.5 981.4 L1090.4 981.1 L1091.3 980.7 L1092.3 980.3 L1093.2 979.7 L1094.2 978.9 L1095.1 978.0 L1096.1 976.8 L1097.0 975.4 L1098.0 973.8 L1098.9 971.9 L1099.9 969.7 L1100.8 967.3 L1101.8 964.8 L1102.7 962.1 L1103.7 959.6 L1104.6 957.2 L1105.5 955.3 L1106.5 954.1 L1107.4 953.7 L1108.4 954.1 L1109.3 955.5 L1110.3 957.4 L1111.2 959.8 L1112.2 962.4 L1113.1 965.0 L1114.1 967.6 L1115.0 969.9 L1116.0 972.1 L1116.9 974.0 L1117.9 975.6 L1118.8 977.0 L1119.7 978.1 L1120.7 979.0 L1121.6 979.8 L1122.6 980.4 L1123.5 980.8 L1124.5 981.2 L1125.4 981.5 L1126.4 981.7 L1127.3 981.9 L1128.3 982.1 L1129.2 982.2 L1130.2 982.3 L1131.1 982.4 L1132.1 982.5 L1133.0 982.6 L1133.9 982.7 L1134.9 982.7 L1135.8 982.8 L1136.8 982.9 L1137.7 982.9 L1138.7 982.9 L1139.6 983.0 L1140.6 983.0 L1141.5 983.1 L1142.5 983.1 L1143.4 983.1 L1144.4 983.1 L1145.3 983.2 L1146.3 983.2 L1147.2 983.2 L1148.1 983.2 L1149.1 983.2 L1150.0 983.3 L1151.0 983.3 L1151.9 983.3 L1152.9 983.3 L1153.8 983.3 L1154.8 983.3 L1155.7 983.3 L1156.7 983.3 L1157.6 983.3 L1158.6 983.3 L1159.5 983.3 L1160.4 983.3 L1161.4 983.3 L1162.3 983.3 L1163.3 983.3 L1164.2 983.3 L1165.2 983.3 L1166.1 983.3 L1167.1 983.3 L1168.0 983.3 L1169.0 983.3 L1169.9 983.3 L1170.9 983.3 L1171.8 983.3 L1172.8 983.3 L1173.7 983.3 L1174.6 983.3 L1175.6 983.2 L1176.5 983.2 L1177.5 983.2 L1178.4 983.2 L1179.4 983.2 L1180.3 983.1 L1181.3 983.1 L1182.2 983.1 L1183.2 983.0 L1184.1 983.0 L1185.1 982.9 L1186.0 982.9 L1187.0 982.8 L1187.9 982.8 L1188.8 982.7 L1189.8 982.6 L1190.7 982.5 L1191.7 982.4 L1192.6 982.3 L1193.6 982.2 L1194.5 982.0 L1195.5 981.9 L1196.4 981.7 L1197.4 981.4 L1198.3 981.1 L1199.3 980.8 L1200.2 980.3 L1201.2 979.6 L1202.1 978.7 L1203.0 977.4 L1204.0 975.7 L1204.9 973.4 L1205.9 970.4 L1206.8 966.7 L1207.8 962.1 L1208.7 956.8 L1209.7 951.1 L1210.6 945.2 L1211.6 940.0 L1212.5 936.3 L1213.5 934.7 L1214.4 935.8 L1215.4 939.2 L1216.3 944.0 L1217.2 949.5 L1218.2 954.9 L1219.1 959.8 L1220.1 964.1 L1221.0 967.6 L1222.0 970.3 L1222.9 972.3 L1223.9 973.7 L1224.8 974.6 L1225.8 975.2 L1226.7 975.6 L1227.7 975.8 L1228.6 976.0 L1229.6 976.2 L1230.5 976.4 L1231.4 976.6 L1232.4 976.8 L1233.3 976.9 L1234.3 977.1 L1235.2 977.2 L1236.2 977.4 L1237.1 977.5 L1238.1 977.6 L1239.0 977.7 L1240.0 977.7 L1240.9 977.8 L1241.9 977.9 L1242.8 978.0 L1243.8 978.0 L1244.7 978.2 L1245.6 978.3 L1246.6 978.5 L1247.5 978.7 L1248.5 979.0 L1249.4 979.3 L1250.4 979.6 L1251.3 979.9 L1252.3 980.3 L1253.2 980.8 L1254.2 981.3 L1255.1 981.8 L1256.1 982.3 L1257.0 982.8 L1257.9 983.3 L1258.9 983.8 L1259.8 984.2 L1260.8 984.6 L1261.7 984.9 L1262.7 985.2 L1263.6 985.5 L1264.6 985.7 L1265.5 985.8 L1266.5 986.0 L1267.4 986.1 L1268.4 986.1 L1269.3 986.2 L1270.3 986.2 L1271.2 986.2 L1272.1 986.2 L1273.1 986.2 L1274.0 986.2 L1275.0 986.2 L1275.9 986.2 L1276.9 986.2 L1277.8 986.2 L1278.8 986.2 L1279.7 986.2 L1280.7 986.2 L1281.6 986.2 L1282.6 986.2 L1283.5 986.2 L1284.5 986.3 L1285.4 986.3 L1286.3 986.3 L1287.3 986.3 L1288.2 986.3 L1289.2 986.3 L1290.1 986.3 L1291.1 986.3 L1292.0 986.3 L1293.0 986.3 L1293.9 986.3 L1294.9 986.3 L1295.8 986.3 L1296.8 986.3 L1297.7 986.3 L1298.7 986.3 L1299.6 986.3 L1300.5 986.3 L1301.5 986.3 L1302.4 986.3 L1303.4 986.3 L1304.3 986.3 L1305.3 986.3 L1306.2 986.3 L1307.2 986.3 L1308.1 986.3 L1309.1 986.3 L1310.0 986.3 L1311.0 986.3 L1311.9 986.3 L1312.9 986.3 L1313.8 986.3 L1314.7 986.3 L1315.7 986.3 L1316.6 986.3 L1317.6 986.3 L1318.5 986.3 L1319.5 986.3 L1320.4 986.3 L1321.4 986.3 L1322.3 986.3 L1323.3 986.3 L1324.2 986.3 L1325.2 986.3 L1326.1 986.3 L1327.1 986.3 L1328.0 986.3 L1328.9 986.3 L1329.9 986.3 L1330.8 986.3 L1331.8 986.3 L1332.7 986.4 L1333.7 986.4 L1334.6 986.4 L1335.6 986.4 L1336.5 986.4 L1337.5 986.4 L1338.4 986.4 L1339.4 986.4 L1340.3 986.4 L1341.3 986.4 L1342.2 986.4 L1343.1 986.4 L1344.1 986.4 L1345.0 986.4 L1346.0 986.4 L1346.9 986.4 L1347.9 986.4 L1348.8 986.4 L1349.8 986.4 L1350.7 986.4 L1351.7 986.4 L1352.6 986.4 L1353.6 986.4 L1354.5 986.4 L1355.4 986.4 L1356.4 986.4 L1357.3 986.3 L1358.3 986.3 L1359.2 986.2 L1360.2 986.2 L1361.1 986.1 L1362.1 986.0 L1363.0 985.9 L1364.0 985.8 L1364.9 985.6 L1365.9 985.5 L1366.8 985.3 L1367.8 985.1 L1368.7 985.0 L1369.6 984.8 L1370.6 984.6 L1371.5 984.4 L1372.5 984.2 L1373.4 983.9 L1374.4 983.7 L1375.3 983.5 L1376.3 983.3 L1377.2 983.1 L1378.2 982.9 L1379.1 982.7 L1380.1 982.5 L1381.0 982.3 L1382.0 982.1 L1382.9 981.9 L1383.8 981.7 L1384.8 981.5 L1385.7 981.3 L1386.7 981.1 L1387.6 980.9 L1388.6 980.7 L1389.5 980.6 L1390.5 980.4 L1391.4 980.2 L1392.4 980.1 L1393.3 980.0 L1394.3 979.8 L1395.2 979.7 L1396.2 979.6 L1397.1 979.6 L1398.0 979.5 L1399.0 979.5 L1399.9 979.4 L1400.9 979.4 L1401.8 979.4 L1402.8 979.4 L1403.7 979.4 L1404.7 979.4 L1405.6 979.4 L1406.6 979.4 L1407.5 979.4 L1408.5 979.4 L1409.4 979.4 L1410.4 979.4 L1411.3 979.4 L1412.2 979.4 L1413.2 979.4 L1414.1 979.4 L1415.1 979.4 L1416.0 979.4 L1417.0 979.4 L1417.9 979.4 L1418.9 979.4 L1419.8 979.4 L1420.8 979.4 L1421.7 979.4 L1422.7 979.4 L1423.6 979.4 L1424.6 979.4 L1425.5 979.4 L1426.4 979.4 L1427.4 979.4 L1428.3 979.4 L1429.3 979.4 L1430.2 979.4 L1431.2 979.4 L1432.1 979.4 L1433.1 979.4 L1434.0 979.4 L1435.0 979.4 L1435.9 979.4 L1436.9 979.4 L1437.8 979.4 L1438.7 979.4 L1439.7 979.4 L1440.6 979.4 L1441.6 979.4 L1442.5 979.4 L1443.5 979.4 L1444.4 979.4 L1445.4 979.4 L1446.3 979.4 L1447.3 979.4 L1448.2 979.4 L1449.2 979.4 L1450.1 979.4 L1451.1 979.4 L1452.0 979.4 L1452.9 979.4 L1453.9 979.4 L1454.8 979.4 L1455.8 979.4 L1456.7 979.4 L1457.7 979.4 L1458.6 979.5 L1459.6 979.6 L1460.5 979.7 L1461.5 979.8 L1462.4 979.9 L1463.4 980.0 L1464.3 980.2 L1465.3 980.4 L1466.2 980.6 L1467.1 980.8 L1468.1 981.0 L1469.0 981.3 L1470.0 981.5 L1470.9 981.8 L1471.9 982.0 L1472.8 982.3 L1473.8 982.5 L1474.7 982.8 L1475.7 983.1 L1476.6 983.3 L1477.6 983.6 L1478.5 983.8 L1479.5 984.1 L1480.4 984.3 L1481.3 984.5 L1482.3 984.7 L1483.2 984.9 L1484.2 985.1 L1485.1 985.2 L1486.1 985.4 L1487.0 985.5 L1488.0 985.6 L1488.9 985.7 L1489.9 985.7 L1490.8 985.8 L1491.8 985.8 L1492.7 985.8 L1493.7 985.8 L1494.6 985.8 L1495.5 985.8 L1496.5 985.8 L1497.4 985.8 L1498.4 985.8 L1499.3 985.8 L1500.3 985.8 L1501.2 985.8 L1502.2 985.8 L1503.1 985.8 L1504.1 985.8 L1505.0 985.8 L1506.0 985.8 L1506.9 985.8 L1507.9 985.8 L1508.8 985.8 L1509.7 985.8 L1510.7 985.8 L1511.6 985.8 L1512.6 985.8 L1513.5 985.8 L1514.5 985.8 L1515.4 985.8 L1516.4 985.8 L1517.3 985.8 L1518.3 985.8 L1519.2 985.8 L1520.2 985.8 L1521.1 985.8 L1522.1 985.8 L1523.0 985.8 L1523.9 985.8 L1524.9 985.8 L1525.8 985.8 L1526.8 985.8 L1527.7 985.8 L1528.7 985.8 L1529.6 985.8 L1530.6 985.8 L1531.5 985.8 L1532.5 985.8 L1533.4 985.8 L1534.4 985.8 L1535.3 985.8 L1536.2 985.8 L1537.2 985.8 L1538.1 985.8 L1539.1 985.7 L1540.0 985.7 L1541.0 985.7 L1541.9 985.7 L1542.9 985.7 L1543.8 985.7 L1544.8 985.7 L1545.7 985.7 L1546.7 985.7 L1547.6 985.7 L1548.6 985.7 L1549.5 985.7 L1550.4 985.7 L1551.4 985.7 L1552.3 985.7 L1553.3 985.7 L1554.2 985.7 L1555.2 985.7 L1556.1 985.7 L1557.1 985.7 L1558.0 985.7 L1559.0 985.7 L1559.9 985.6 L1560.9 985.6 L1561.8 985.6 L1562.8 985.6 L1563.7 985.6 L1564.6 985.6 L1565.6 985.6 L1566.5 985.6 L1567.5 985.6 L1568.4 985.6 L1569.4 985.6 L1570.3 985.6 L1571.3 985.6 L1572.2 985.5 L1573.2 985.5 L1574.1 985.5 L1575.1 985.5 L1576.0 985.5 L1577.0 985.5 L1577.9 985.5 L1578.8 985.5 L1579.8 985.4 L1580.7 985.4 L1581.7 985.4 L1582.6 985.4 L1583.6 985.4 L1584.5 985.4 L1585.5 985.3 L1586.4 985.3 L1587.4 985.3 L1588.3 985.3 L1589.3 985.2 L1590.2 985.2 L1591.2 985.2 L1592.1 985.2 L1593.0 985.1 L1594.0 985.1 L1594.9 985.0 L1595.9 985.0 L1596.8 985.0 L1597.8 984.9 L1598.7 984.9 L1599.7 984.8 L1600.6 984.7 L1601.6 984.7 L1602.5 984.6 L1603.5 984.5 L1604.4 984.4 L1605.4 984.3 L1606.3 984.2 L1607.2 984.1 L1608.2 984.0 L1609.1 983.8 L1610.1 983.6 L1611.0 983.4 L1612.0 983.1 L1612.9 982.7 L1613.9 982.1 L1614.8 981.4 L1615.8 980.4 L1616.7 979.0 L1617.7 977.3 L1618.6 975.0 L1619.6 972.1 L1620.5 968.7 L1621.4 964.7 L1622.4 960.3 L1623.3 955.7 L1624.3 951.2 L1625.2 947.4 L1626.2 944.6 L1627.1 943.5 L1628.1 944.2 L1629.0 946.5 L1630.0 950.1 L1630.9 954.3 L1631.9 958.7 L1632.8 963.0 L1633.7 966.9 L1634.7 970.2 L1635.6 972.9 L1636.6 975.0 L1637.5 976.5 L1638.5 977.5 L1639.4 978.1 L1640.4 978.2 L1641.3 978.0 L1642.3 977.3 L1643.2 976.2 L1644.2 974.6 L1645.1 972.4 L1646.1 969.6 L1647.0 966.0 L1647.9 961.7 L1648.9 956.6 L1649.8 951.0 L1650.8 944.9 L1651.7 938.8 L1652.7 933.1 L1653.6 928.3 L1654.6 925.1 L1655.5 923.9 L1656.5 925.1 L1657.4 928.3 L1658.4 933.1 L1659.3 938.7 L1660.3 944.8 L1661.2 950.7 L1662.1 956.2 L1663.1 961.1 L1664.0 965.3 L1665.0 968.6 L1665.9 971.3 L1666.9 973.1 L1667.8 974.4 L1668.8 975.0 L1669.7 975.2 L1670.7 974.8 L1671.6 974.0 L1672.6 972.7 L1673.5 970.9 L1674.5 968.7 L1675.4 966.0 L1676.3 962.8 L1677.3 959.1 L1678.2 955.1 L1679.2 950.8 L1680.1 946.3 L1681.1 941.9 L1682.0 937.7 L1683.0 934.2 L1683.9 931.5 L1684.9 930.0 L1685.8 929.8 L1686.8 931.0 L1687.7 933.4 L1688.7 936.8 L1689.6 941.0 L1690.5 945.4 L1691.5 950.1 L1692.4 954.6 L1693.4 958.9 L1694.3 962.9 L1695.3 966.4 L1696.2 969.6 L1697.2 972.2 L1698.1 974.5 L1699.1 976.3 L1700.0 977.8 L1701.0 979.0 L1701.9 980.0 L1702.9 980.7 L1703.8 981.3 L1704.7 981.7 L1705.7 982.1 L1706.6 982.3 L1707.6 982.5 L1708.5 982.7 L1709.5 982.7 L1710.4 982.8 L1711.4 982.7 L1712.3 982.7 L1713.3 982.5 L1714.2 982.4 L1715.2 982.1 L1716.1 981.8 L1717.1 981.5 L1718.0 981.1 L1718.9 980.6 L1719.9 980.2 L1720.8 979.6 L1721.8 979.1 L1722.7 978.5 L1723.7 978.0 L1724.6 977.5 L1725.6 977.0 L1726.5 976.6 L1727.5 976.3 L1728.4 976.1 L1729.4 976.1 L1730.3 976.2 L1731.2 976.4 L1732.2 976.7 L1733.1 977.2 L1734.1 977.7 L1735.0 978.3 L1736.0 978.9 L1736.9 979.6 L1737.9 980.2 L1738.8 980.8 L1739.8 981.4 L1740.7 981.9 L1741.7 982.4 L1742.6 982.8 L1743.6 983.2 L1744.5 983.6 L1745.4 983.9 L1746.4 984.1 L1747.3 984.3 L1748.3 984.5 L1749.2 984.7 L1750.2 984.8 L1751.1 984.9 L1752.1 985.0 L1753.0 985.0 L1754.0 985.1 L1754.9 985.2 L1755.9 985.2 L1756.8 985.2 L1757.8 985.3 L1758.7 985.3 L1759.6 985.3 L1760.6 985.3 L1761.5 985.4 L1762.5 985.4 L1763.4 985.4 L1764.4 985.4 L1765.3 985.4 L1766.3 985.4 L1767.2 985.4 L1768.2 985.5 L1769.1 985.5 L1770.1 985.5 L1771.0 985.5 L1772.0 985.5 L1772.9 985.5 L1773.8 985.5 L1774.8 985.5 L1775.7 985.5 L1776.7 985.5 L1777.6 985.5 L1778.6 985.5 L1779.5 985.6 L1780.5 985.6 L1781.4 985.6 L1782.4 985.6 L1783.3 985.6 L1784.3 985.6 L1785.2 985.6 L1786.2 985.6 L1787.1 985.6 L1788.0 985.6 L1789.0 985.6 L1789.9 985.6 L1790.9 985.6 L1791.8 985.6 L1792.8 985.6 L1793.7 985.6 L1794.7 985.6 L1795.6 985.6 L1796.6 985.6 L1797.5 985.6 L1798.5 985.6 L1799.4 985.6 L1800.4 985.6 L1801.3 985.6 L1802.2 985.6 L1803.2 985.6 L1804.1 985.6 L1805.1 985.6 L1806.0 985.6 L1807.0 985.6 L1807.9 985.6 L1808.9 985.6 L1809.8 985.6 L1810.8 985.6 L1811.7 985.6 L1812.7 985.6 L1813.6 985.6 L1814.6 985.6 L1815.5 985.6 L1816.4 985.6 L1817.4 985.6 L1818.3 985.6 L1819.3 985.6 L1820.2 985.6 L1821.2 985.6 L1822.1 985.6 L1823.1 985.6 L1824.0 985.6 L1825.0 985.6 L1825.9 985.5 L1826.9 985.5 L1827.8 985.5 L1828.7 985.5 L1829.7 985.5 L1830.6 985.5 L1831.6 985.5 L1832.5 985.5 L1833.5 985.5 L1834.4 985.5 L1835.4 985.5 L1836.3 985.4 L1837.3 985.4 L1838.2 985.4 L1839.2 985.4 L1840.1 985.4 L1841.1 985.4 L1842.0 985.3 L1842.9 985.3 L1843.9 985.3 L1844.8 985.3 L1845.8 985.2 L1846.7 985.2 L1847.7 985.2 L1848.6 985.2 L1849.6 985.1 L1850.5 985.1 L1851.5 985.0 L1852.4 985.0 L1853.4 984.9 L1854.3 984.8 L1855.3 984.7 L1856.2 984.6 L1857.1 984.5 L1858.1 984.3 L1859.0 984.1 L1860.0 983.9 L1860.9 983.6 L1861.9 983.2 L1862.8 982.7 L1863.8 982.2 L1864.7 981.5 L1865.7 980.8 L1866.6 979.9 L1867.6 978.8 L1868.5 977.7 L1869.5 976.4 L1870.4 975.0 L1871.3 973.5 L1872.3 971.9 L1873.2 970.3 L1874.2 968.6 L1875.1 967.0 L1876.1 965.4 L1877.0 964.0 L1878.0 962.8 L1878.9 961.9 L1879.9 961.3 L1880.8 961.0 L1881.8 961.1 L1882.7 961.5 L1883.7 962.2 L1884.6 963.2 L1885.5 964.4 L1886.5 965.8 L1887.4 967.1 L1888.4 968.5 L1889.3 969.9 L1890.3 971.2 L1891.2 972.3 L1892.2 973.4 L1893.1 974.3 L1894.1 975.0 L1895.0 975.6 L1896.0 976.0 L1896.9 976.2 L1897.9 976.4 L1898.8 976.3 L1899.7 976.2 L1900.7 975.9 L1901.6 975.6 L1902.6 975.2 L1903.5 974.7 L1904.5 974.1 L1905.4 973.5 L1906.4 972.8 L1907.3 972.2 L1908.3 971.5 L1909.2 970.7 L1910.2 970.0 L1911.1 969.3 L1912.0 968.6 L1913.0 967.9 L1913.9 967.3 L1914.9 966.6 L1915.8 966.1 L1916.8 965.5 L1917.7 965.0 L1918.7 964.6 L1919.6 964.2 L1920.6 963.9 L1921.5 963.7 L1922.5 963.5 L1923.4 963.4 L1924.4 963.4 L1925.3 963.5 L1926.2 963.7 L1927.2 963.9 L1928.1 964.2 L1929.1 964.6 L1930.0 965.0 L1931.0 965.5 L1931.9 966.0 L1932.9 966.6 L1933.8 967.3 L1934.8 967.9 L1935.7 968.6 L1936.7 969.4 L1937.6 970.1 L1938.6 970.8 L1939.5 971.6 L1940.4 972.3 L1941.4 973.1 L1942.3 973.8 L1943.3 974.5 L1944.2 975.2 L1945.2 975.9 L1946.1 976.5 L1947.1 977.1 L1948.0 977.6 L1949.0 978.1 L1949.9 978.5 L1950.9 978.8 L1951.8 979.0 L1952.8 979.1 L1953.7 979.0 L1954.6 978.7 L1955.6 978.3 L1956.5 977.6 L1957.5 976.7 L1958.4 975.5 L1959.4 974.2 L1960.3 972.6 L1961.3 970.9 L1962.2 969.1 L1963.2 967.3 L1964.1 965.7 L1965.1 964.3 L1966.0 963.4 L1967.0 963.0 L1967.9 963.2 L1968.8 963.9 L1969.8 965.2 L1970.7 966.8 L1971.7 968.7 L1972.6 970.7 L1973.6 972.8 L1974.5 974.7 L1975.5 976.5 L1976.4 978.1 L1977.4 979.5 L1978.3 980.7 L1979.3 981.7 L1980.2 982.5 L1981.2 983.2 L1982.1 983.7 L1983.0 984.0 L1984.0 984.3 L1984.9 984.6 L1985.9 984.7 L1986.8 984.9 L1987.8 985.0 L1988.7 985.0 L1989.7 985.1 L1990.6 985.2 L1991.6 985.2 L1992.5 985.3 L1993.5 985.3 L1994.4 985.3 L1995.4 985.4 L1996.3 985.4 L1997.2 985.4 L1998.2 985.4 L1999.1 985.5 L2000.1 985.5 L2001.0 985.5 L2002.0 985.5 L2002.9 985.5 L2003.9 985.6 L2004.8 985.6 L2005.8 985.6 L2006.7 985.6 L2007.7 985.6 L2008.6 985.5 L2009.5 985.5 L2010.5 985.4 L2011.4 985.3 L2012.4 985.2 L2013.3 985.1 L2014.3 985.0 L2015.2 984.8 L2016.2 984.7 L2017.1 984.5 L2018.1 984.3 L2019.0 984.1 L2020.0 983.9 L2020.9 983.7 L2021.9 983.5 L2022.8 983.3 L2023.7 983.1 L2024.7 982.9 L2025.6 982.7 L2026.6 982.5 L2027.5 982.2 L2028.5 982.0 L2029.4 981.9 L2030.4 981.7 L2031.3 981.5 L2032.3 981.4 L2033.2 981.3 L2034.2 981.2 L2035.1 981.0 L2036.1 981.0 L2037.0 980.9 L2037.9 980.8 L2038.9 980.8 L2039.8 980.7 L2040.8 980.7 L2041.7 980.7 L2042.7 980.7 L2043.6 980.6 L2044.6 980.6 L2045.5 980.6 L2046.5 980.6 L2047.4 980.6 L2048.4 980.6 L2049.3 980.6 L2050.3 980.6 L2051.2 980.6 L2052.1 980.6" stroke="#000"/>
<path d="M158.0 606.2 L158.9 606.2 L159.9 606.2 L160.8 606.2 L161.8 606.2 L162.7 606.2 L163.7 606.2 L164.6 606.2 L165.6 606.2 L166.5 606.2 L167.5 606.2 L168.4 606.2 L169.4 606.2 L170.3 606.2 L171.3 606.2 L172.2 606.2 L173.1 606.2 L174.1 606.2 L175.0 606.2 L176.0 606.2 L176.9 606.2 L177.9 606.2 L178.8 606.2 L179.8 606.2 L180.7 606.1 L181.7 606.1 L182.6 606.1 L183.6 606.1 L184.5 606.1 L185.5 606.1 L186.4 606.1 L187.3 606.0 L188.3 606.0 L189.2 605.9 L190.2 605.8 L191.1 605.7 L192.1 605.7 L193.0 605.6 L194.0 605.5 L194.9 605.3 L195.9 605.2 L196.8 605.1 L197.8 604.9 L198.7 604.8 L199.7 604.6 L200.6 604.5 L201.5 604.4 L202.5 604.2 L203.4 604.1 L204.4 603.9 L205.3 603.8 L206.3 603.6 L207.2 603.5 L208.2 603.4 L209.1 603.2 L210.1 603.1 L211.0 602.9 L212.0 602.8 L212.9 602.6 L213.8 602.5 L214.8 602.3 L215.7 602.2 L216.7 602.0 L217.6 601.9 L218.6 601.7 L219.5 601.6 L220.5 601.4 L221.4 601.3 L222.4 601.2 L223.3 601.0 L224.3 600.9 L225.2 600.8 L226.2 600.6 L227.1 600.5 L228.0 600.4 L229.0 600.3 L229.9 600.2 L230.9 600.0 L231.8 599.9 L232.8 599.8 L233.7 599.7 L234.7 599.6 L235.6 599.5 L236.6 599.4 L237.5 599.2 L238.5 599.1 L239.4 599.0 L240.4 598.9 L241.3 598.8 L242.2 598.6 L243.2 598.5 L244.1 598.4 L245.1 598.2 L246.0 598.1 L247.0 598.0 L247.9 597.8 L248.9 597.7 L249.8 597.5 L250.8 597.4 L251.7 597.2 L252.7 597.1 L253.6 596.9 L254.6 596.7 L255.5 596.5 L256.4 596.4 L257.4 596.2 L258.3 596.0 L259.3 595.8 L260.2 595.5 L261.2 595.3 L262.1 595.1 L263.1 594.8 L264.0 594.5 L265.0 594.3 L265.9 594.0 L266.9 593.6 L267.8 593.3 L268.8 592.9 L269.7 592.5 L270.6 592.1 L271.6 591.6 L272.5 591.1 L273.5 590.5 L274.4 589.7 L275.4 588.8 L276.3 587.7 L277.3 586.3 L278.2 584.4 L279.2 581.8 L280.1 578.2 L281.1 573.5 L282.0 567.1 L283.0 558.7 L283.9 547.9 L284.8 534.2 L285.8 517.4 L286.7 497.4 L287.7 474.3 L288.6 448.6 L289.6 420.9 L290.5 392.5 L291.5 364.8 L292.4 339.6 L293.4 319.1 L294.3 305.1 L295.3 299.3 L296.2 302.3 L297.2 313.9 L298.1 332.7 L299.0 356.6 L300.0 383.7 L300.9 412.0 L301.9 439.9 L302.8 466.3 L303.8 490.2 L304.7 511.1 L305.7 528.8 L306.6 543.3 L307.6 554.9 L308.5 563.9 L309.5 570.8 L310.4 576.0 L311.3 579.7 L312.3 582.5 L313.2 584.5 L314.2 586.0 L315.1 587.1 L316.1 588.0 L317.0 588.7 L318.0 589.2 L318.9 589.7 L319.9 590.1 L320.8 590.4 L321.8 590.7 L322.7 591.0 L323.7 591.2 L324.6 591.4 L325.5 591.6 L326.5 591.8 L327.4 591.9 L328.4 592.0 L329.3 592.2 L330.3 592.3 L331.2 592.4 L332.2 592.5 L333.1 592.5 L334.1 592.6 L335.0 592.7 L336.0 592.8 L336.9 592.8 L337.9 592.9 L338.8 592.9 L339.7 593.0 L340.7 593.0 L341.6 593.0 L342.6 593.1 L343.5 593.1 L344.5 593.2 L345.4 593.2 L346.4 593.2 L347.3 593.2 L348.3 593.3 L349.2 593.3 L350.2 593.3 L351.1 593.3 L352.1 593.3 L353.0 593.4 L353.9 593.4 L354.9 593.4 L355.8 593.4 L356.8 593.4 L357.7 593.4 L358.7 593.4 L359.6 593.4 L360.6 593.3 L361.5 593.3 L362.5 593.3 L363.4 593.3 L364.4 593.2 L365.3 593.1 L366.3 593.1 L367.2 593.0 L368.1 592.8 L369.1 592.6 L370.0 592.4 L371.0 592.1 L371.9 591.7 L372.9 591.2 L373.8 590.6 L374.8 589.9 L375.7 589.1 L376.7 588.1 L377.6 587.0 L378.6 585.8 L379.5 584.5 L380.5 583.2 L381.4 581.8 L382.3 580.5 L383.3 579.3 L384.2 578.3 L385.2 577.5 L386.1 577.0 L387.1 576.9 L388.0 577.2 L389.0 577.8 L389.9 578.6 L390.9 579.7 L391.8 581.0 L392.8 582.3 L393.7 583.6 L394.6 585.0 L395.6 586.2 L396.5 587.4 L397.5 588.4 L398.4 589.3 L399.4 590.1 L400.3 590.7 L401.3 591.3 L402.2 591.7 L403.2 592.1 L404.1 592.3 L405.1 592.6 L406.0 592.7 L407.0 592.9 L407.9 592.9 L408.8 593.0 L409.8 593.1 L410.7 593.1 L411.7 593.1 L412.6 593.2 L413.6 593.2 L414.5 593.2 L415.5 593.2 L416.4 593.2 L417.4 593.2 L418.3 593.2 L419.3 593.2 L420.2 593.1 L421.2 593.1 L422.1 593.1 L423.0 593.1 L424.0 593.1 L424.9 593.0 L425.9 593.0 L426.8 593.0 L427.8 593.0 L428.7 592.9 L429.7 592.9 L430.6 592.9 L431.6 592.8 L432.5 592.8 L433.5 592.7 L434.4 592.7 L435.4 592.6 L436.3 592.5 L437.2 592.5 L438.2 592.4 L439.1 592.3 L440.1 592.3 L441.0 592.2 L442.0 592.1 L442.9 592.0 L443.9 591.9 L444.8 591.8 L445.8 591.7 L446.7 591.5 L447.7 591.4 L448.6 591.2 L449.6 591.1 L450.5 590.9 L451.4 590.7 L452.4 590.5 L453.3 590.3 L454.3 590.0 L455.2 589.8 L456.2 589.4 L457.1 589.1 L458.1 588.7 L459.0 588.3 L460.0 587.8 L460.9 587.2 L461.9 586.5 L462.8 585.6 L463.8 584.6 L464.7 583.3 L465.6 581.7 L466.6 579.8 L467.5 577.4 L468.5 574.4 L469.4 570.9 L470.4 566.6 L471.3 561.5 L472.3 555.6 L473.2 548.8 L474.2 541.1 L475.1 532.7 L476.1 523.7 L477.0 514.2 L478.0 504.8 L478.9 495.7 L479.8 487.5 L480.8 481.0 L481.7 476.7 L482.7 475.1 L483.6 476.4 L484.6 480.5 L485.5 486.8 L486.5 494.7 L487.4 503.7 L488.4 513.0 L489.3 522.3 L490.3 531.2 L491.2 539.5 L492.1 547.0 L493.1 553.7 L494.0 559.5 L495.0 564.5 L495.9 568.7 L496.9 572.2 L497.8 575.1 L498.8 577.5 L499.7 579.4 L500.7 580.9 L501.6 582.1 L502.6 583.1 L503.5 584.0 L504.5 584.7 L505.4 585.2 L506.3 585.7 L507.3 586.2 L508.2 586.6 L509.2 586.9 L510.1 587.2 L511.1 587.5 L512.0 587.7 L513.0 588.0 L513.9 588.2 L514.9 588.3 L515.8 588.5 L516.8 588.7 L517.7 588.8 L518.7 589.0 L519.6 589.1 L520.5 589.2 L521.5 589.3 L522.4 589.4 L523.4 589.5 L524.3 589.6 L525.3 589.7 L526.2 589.8 L527.2 589.8 L528.1 589.9 L529.1 590.0 L530.0 590.0 L531.0 590.1 L531.9 590.2 L532.9 590.2 L533.8 590.3 L534.7 590.3 L535.7 590.3 L536.6 590.4 L537.6 590.4 L538.5 590.5 L539.5 590.5 L540.4 590.5 L541.4 590.6 L542.3 590.6 L543.3 590.6 L544.2 590.6 L545.2 590.7 L546.1 590.7 L547.1 590.7 L548.0 590.7 L548.9 590.7 L549.9 590.8 L550.8 590.8 L551.8 590.8 L552.7 590.8 L553.7 590.8 L554.6 590.9 L555.6 590.9 L556.5 590.9 L557.5 590.9 L558.4 590.9 L559.4 590.9 L560.3 590.9 L561.3 590.9 L562.2 590.9 L563.1 591.0 L564.1 591.0 L565.0 591.0 L566.0 591.0 L566.9 591.0 L567.9 591.0 L568.8 591.0 L569.8 591.0 L570.7 591.0 L571.7 591.0 L572.6 591.0 L573.6 591.0 L574.5 591.0 L575.5 591.0 L576.4 591.0 L577.3 591.0 L578.3 591.0 L579.2 591.0 L580.2 591.0 L581.1 591.0 L582.1 591.0 L583.0 591.1 L584.0 591.1 L584.9 591.1 L585.9 591.1 L586.8 591.1 L587.8 591.1 L588.7 591.1 L589.6 591.0 L590.6 591.0 L591.5 591.0 L592.5 591.0 L593.4 591.0 L594.4 591.0 L595.3 591.0 L596.3 591.0 L597.2 591.0 L598.2 591.0 L599.1 591.0 L600.1 591.0 L601.0 591.0 L602.0 591.0 L602.9 591.0 L603.8 591.0 L604.8 591.0 L605.7 591.0 L606.7 591.0 L607.6 591.0 L608.6 591.0 L609.5 591.0 L610.5 591.0 L611.4 591.0 L612.4 590.9 L613.3 590.9 L614.3 590.9 L615.2 590.9 L616.2 590.9 L617.1 590.9 L618.0 590.9 L619.0 590.9 L619.9 590.9 L620.9 590.9 L621.8 590.9 L622.8 590.8 L623.7 590.8 L624.7 590.8 L625.6 590.8 L626.6 590.8 L627.5 590.8 L628.5 590.8 L629.4 590.7 L630.4 590.7 L631.3 590.7 L632.2 590.7 L633.2 590.7 L634.1 590.7 L635.1 590.7 L636.0 590.6 L637.0 590.6 L637.9 590.6 L638.9 590.6 L639.8 590.6 L640.8 590.5 L641.7 590.5 L642.7 590.5 L643.6 590.5 L644.6 590.5 L645.5 590.4 L646.4 590.4 L647.4 590.4 L648.3 590.4 L649.3 590.3 L650.2 590.3 L651.2 590.3 L652.1 590.2 L653.1 590.2 L654.0 590.2 L655.0 590.1 L655.9 590.1 L656.9 590.1 L657.8 590.0 L658.8 590.0 L659.7 590.0 L660.6 589.9 L661.6 589.9 L662.5 589.8 L663.5 589.8 L664.4 589.8 L665.4 589.7 L666.3 589.7 L667.3 589.6 L668.2 589.6 L669.2 589.5 L670.1 589.4 L671.1 589.4 L672.0 589.3 L673.0 589.3 L673.9 589.2 L674.8 589.1 L675.8 589.0 L676.7 589.0 L677.7 588.9 L678.6 588.8 L679.6 588.7 L680.5 588.6 L681.5 588.5 L682.4 588.4 L683.4 588.3 L684.3 588.2 L685.3 588.1 L686.2 588.0 L687.1 587.9 L688.1 587.8 L689.0 587.6 L690.0 587.5 L690.9 587.3 L691.9 587.2 L692.8 587.0 L693.8 586.8 L694.7 586.6 L695.7 586.4 L696.6 586.2 L697.6 586.0 L698.5 585.8 L699.5 585.5 L700.4 585.3 L701.3 585.0 L702.3 584.7 L703.2 584.4 L704.2 584.1 L705.1 583.7 L706.1 583.3 L707.0 582.9 L708.0 582.5 L708.9 582.0 L709.9 581.5 L710.8 580.9 L711.8 580.4 L712.7 579.7 L713.7 579.0 L714.6 578.3 L715.5 577.4 L716.5 576.5 L717.4 575.5 L718.4 574.4 L719.3 573.2 L720.3 571.8 L721.2 570.3 L722.2 568.6 L723.1 566.6 L724.1 564.3 L725.0 561.7 L726.0 558.6 L726.9 554.9 L727.9 550.6 L728.8 545.4 L729.7 539.3 L730.7 532.0 L731.6 523.3 L732.6 513.1 L733.5 501.2 L734.5 487.4 L735.4 471.6 L736.4 453.9 L737.3 434.3 L738.3 412.9 L739.2 390.3 L740.2 367.1 L741.1 344.6 L742.1 324.1 L743.0 307.4 L743.9 296.5 L744.9 292.6 L745.8 294.3 L746.8 299.4 L747.7 307.6 L748.7 318.6 L749.6 331.8 L750.6 346.8 L751.5 363.1 L752.5 380.1 L753.4 397.5 L754.4 414.9 L755.3 431.9 L756.3 448.4 L757.2 464.0 L758.1 478.6 L759.1 492.1 L760.0 504.5 L761.0 515.6 L761.9 525.6 L762.9 534.4 L763.8 542.1 L764.8 548.8 L765.7 554.5 L766.7 559.4 L767.6 563.6 L768.6 567.0 L769.5 570.0 L770.5 572.4 L771.4 574.4 L772.3 576.1 L773.3 577.5 L774.2 578.7 L775.2 579.7 L776.1 580.5 L777.1 581.2 L778.0 581.8 L779.0 582.3 L779.9 582.8 L780.9 583.2 L781.8 583.5 L782.8 583.8 L783.7 584.1 L784.6 584.4 L785.6 584.6 L786.5 584.8 L787.5 585.0 L788.4 585.1 L789.4 585.3 L790.3 585.4 L791.3 585.5 L792.2 585.5 L793.2 585.6 L794.1 585.6 L795.1 585.7 L796.0 585.7 L797.0 585.6 L797.9 585.6 L798.8 585.5 L799.8 585.3 L800.7 585.2 L801.7 584.9 L802.6 584.6 L803.6 584.2 L804.5 583.7 L805.5 583.0 L806.4 582.1 L807.4 580.9 L808.3 579.5 L809.3 577.6 L810.2 575.3 L811.2 572.5 L812.1 569.1 L813.0 565.2 L814.0 560.7 L814.9 555.8 L815.9 550.5 L816.8 545.0 L817.8 539.6 L818.7 534.7 L819.7 530.7 L820.6 528.0 L821.6 527.0 L822.5 527.9 L823.5 530.6 L824.4 534.6 L825.4 539.6 L826.3 545.0 L827.2 550.6 L828.2 556.0 L829.1 561.1 L830.1 565.6 L831.0 569.7 L832.0 573.2 L832.9 576.1 L833.9 578.6 L834.8 580.5 L835.8 582.1 L836.7 583.4 L837.7 584.4 L838.6 585.3 L839.6 585.9 L840.5 586.4 L841.4 586.8 L842.4 587.2 L843.3 587.5 L844.3 587.8 L845.2 588.0 L846.2 588.2 L847.1 588.4 L848.1 588.5 L849.0 588.6 L850.0 588.8 L850.9 588.9 L851.9 589.0 L852.8 589.1 L853.8 589.1 L854.7 589.2 L855.6 589.3 L856.6 589.3 L857.5 589.4 L858.5 589.4 L859.4 589.4 L860.4 589.4 L861.3 589.4 L862.3 589.3 L863.2 589.2 L864.2 589.1 L865.1 589.0 L866.1 588.8 L867.0 588.5 L868.0 588.2 L868.9 587.9 L869.8 587.4 L870.8 586.9 L871.7 586.4 L872.7 585.8 L873.6 585.1 L874.6 584.4 L875.5 583.7 L876.5 583.0 L877.4 582.3 L878.4 581.7 L879.3 581.2 L880.3 580.9 L881.2 580.8 L882.1 580.8 L883.1 581.1 L884.0 581.5 L885.0 582.0 L885.9 582.7 L886.9 583.4 L887.8 584.2 L888.8 584.9 L889.7 585.6 L890.7 586.3 L891.6 586.9 L892.6 587.5 L893.5 588.0 L894.5 588.4 L895.4 588.8 L896.3 589.1 L897.3 589.4 L898.2 589.6 L899.2 589.8 L900.1 589.9 L901.1 590.0 L902.0 590.1 L903.0 590.2 L903.9 590.2 L904.9 590.2 L905.8 590.2 L906.8 590.2 L907.7 590.2 L908.7 590.2 L909.6 590.2 L910.5 590.1 L911.5 590.0 L912.4 589.9 L913.4 589.8 L914.3 589.6 L915.3 589.4 L916.2 589.1 L917.2 588.7 L918.1 588.3 L919.1 587.8 L920.0 587.2 L921.0 586.5 L921.9 585.7 L922.9 584.8 L923.8 583.8 L924.7 582.8 L925.7 581.7 L926.6 580.6 L927.6 579.5 L928.5 578.5 L929.5 577.6 L930.4 577.0 L931.4 576.5 L932.3 576.3 L933.3 576.5 L934.2 576.9 L935.2 577.6 L936.1 578.4 L937.1 579.4 L938.0 580.5 L938.9 581.6 L939.9 582.7 L940.8 583.8 L941.8 584.8 L942.7 585.7 L943.7 586.5 L944.6 587.3 L945.6 587.9 L946.5 588.5 L947.5 588.9 L948.4 589.3 L949.4 589.6 L950.3 589.9 L951.3 590.1 L952.2 590.3 L953.1 590.4 L954.1 590.5 L955.0 590.6 L956.0 590.7 L956.9 590.7 L957.9 590.8 L958.8 590.8 L959.8 590.9 L960.7 590.9 L961.7 590.9 L962.6 591.0 L963.6 591.0 L964.5 591.0 L965.4 591.0 L966.4 591.0 L967.3 591.0 L968.3 591.0 L969.2 591.0 L970.2 591.1 L971.1 591.1 L972.1 591.1 L973.0 591.1 L974.0 591.1 L974.9 591.1 L975.9 591.0 L976.8 591.0 L977.8 591.0 L978.7 591.0 L979.6 591.0 L980.6 591.0 L981.5 591.0 L982.5 590.9 L983.4 590.9 L984.4 590.9 L985.3 590.8 L986.3 590.8 L987.2 590.7 L988.2 590.6 L989.1 590.4 L990.1 590.1 L991.0 589.8 L992.0 589.3 L992.9 588.5 L993.8 587.4 L994.8 585.9 L995.7 583.8 L996.7 581.0 L997.6 577.2 L998.6 572.3 L999.5 566.1 L1000.5 558.4 L1001.4 549.1 L1002.4 538.2 L1003.3 525.6 L1004.3 511.6 L1005.2 496.4 L1006.2 480.6 L1007.1 464.6 L1008.0 449.1 L1009.0 434.9 L1009.9 422.7 L1010.9 413.3 L1011.8 407.1 L1012.8 404.7 L1013.7 405.8 L1014.7 409.6 L1015.6 415.9 L1016.6 424.5 L1017.5 435.0 L1018.5 447.0 L1019.4 459.9 L1020.4 473.4 L1021.3 487.0 L1022.2 500.3 L1023.2 513.1 L1024.1 524.9 L1025.1 535.8 L1026.0 545.5 L1027.0 554.0 L1027.9 561.3 L1028.9 567.5 L1029.8 572.6 L1030.8 576.8 L1031.7 580.2 L1032.7 582.9 L1033.6 584.9 L1034.6 586.5 L1035.5 587.7 L1036.4 588.6 L1037.4 589.3 L1038.3 589.8 L1039.3 590.2 L1040.2 590.4 L1041.2 590.6 L1042.1 590.8 L1043.1 590.9 L1044.0 591.0 L1045.0 591.0 L1045.9 591.1 L1046.9 591.1 L1047.8 591.2 L1048.8 591.2 L1049.7 591.2 L1050.6 591.2 L1051.6 591.3 L1052.5 591.3 L1053.5 591.3 L1054.4 591.3 L1055.4 591.3 L1056.3 591.3 L1057.3 591.2 L1058.2 591.2 L1059.2 591.2 L1060.1 591.1 L1061.1 591.0 L1062.0 590.9 L1062.9 590.8 L1063.9 590.6 L1064.8 590.4 L1065.8 590.2 L1066.7 589.9 L1067.7 589.6 L1068.6 589.2 L1069.6 588.7 L1070.5 588.2 L1071.5 587.7 L1072.4 587.0 L1073.4 586.3 L1074.3 585.5 L1075.3 584.7 L1076.2 583.8 L1077.1 582.8 L1078.1 581.8 L1079.0 580.7 L1080.0 579.7 L1080.9 578.6 L1081.9 577.6 L1082.8 576.5 L1083.8 575.6 L1084.7 574.7 L1085.7 573.8 L1086.6 573.1 L1087.6 572.5 L1088.5 572.0 L1089.5 571.7 L1090.4 571.5 L1091.3 571.5 L1092.3 571.6 L1093.2 571.9 L1094.2 572.3 L1095.1 572.9 L1096.1 573.6 L1097.0 574.5 L1098.0 575.4 L1098.9 576.4 L1099.9 577.5 L1100.8 578.7 L1101.8 579.9 L1102.7 581.1 L1103.7 582.3 L1104.6 583.5 L1105.5 584.6 L1106.5 585.7 L1107.4 586.7 L1108.4 587.7 L1109.3 588.6 L1110.3 589.5 L1111.2 590.2 L1112.2 590.9 L1113.1 591.5 L1114.1 592.0 L1115.0 592.5 L1116.0 592.9 L1116.9 593.2 L1117.9 593.5 L1118.8 593.7 L1119.7 593.9 L1120.7 594.1 L1121.6 594.3 L1122.6 594.4 L1123.5 594.5 L1124.5 594.5 L1125.4 594.6 L1126.4 594.6 L1127.3 594.7 L1128.3 594.7 L1129.2 594.7 L1130.2 594.8 L1131.1 594.8 L1132.1 594.8 L1133.0 594.8 L1133.9 594.8 L1134.9 594.8 L1135.8 594.8 L1136.8 594.8 L1137.7 594.8 L1138.7 594.8 L1139.6 594.8 L1140.6 594.8 L1141.5 594.8 L1142.5 594.8 L1143.4 594.8 L1144.4 594.8 L1145.3 594.8 L1146.3 594.8 L1147.2 594.8 L1148.1 594.8 L1149.1 594.8 L1150.0 594.8 L1151.0 594.8 L1151.9 594.8 L1152.9 594.8 L1153.8 594.8 L1154.8 594.8 L1155.7 594.8 L1156.7 594.8 L1157.6 594.8 L1158.6 594.8 L1159.5 594.8 L1160.4 594.8 L1161.4 594.8 L1162.3 594.8 L1163.3 594.8 L1164.2 594.8 L1165.2 594.8 L1166.1 594.8 L1167.1 594.8 L1168.0 594.8 L1169.0 594.8 L1169.9 594.8 L1170.9 594.8 L1171.8 594.8 L1172.8 594.8 L1173.7 594.8 L1174.6 594.8 L1175.6 594.8 L1176.5 594.8 L1177.5 594.8 L1178.4 594.8 L1179.4 594.8 L1180.3 594.9 L1181.3 594.9 L1182.2 594.9 L1183.2 594.9 L1184.1 594.9 L1185.1 594.9 L1186.0 594.9 L1187.0 594.9 L1187.9 594.9 L1188.8 594.9 L1189.8 594.9 L1190.7 594.9 L1191.7 594.9 L1192.6 594.9 L1193.6 594.9 L1194.5 594.9 L1195.5 594.9 L1196.4 594.9 L1197.4 594.9 L1198.3 594.9 L1199.3 594.9 L1200.2 594.9 L1201.2 594.9 L1202.1 594.9 L1203.0 594.9 L1204.0 594.9 L1204.9 594.9 L1205.9 594.9 L1206.8 594.9 L1207.8 594.9 L1208.7 594.9 L1209.7 594.9 L1210.6 594.9 L1211.6 594.9 L1212.5 594.9 L1213.5 594.9 L1214.4 594.9 L1215.4 594.9 L1216.3 594.9 L1217.2 594.9 L1218.2 594.9 L1219.1 594.9 L1220.1 594.9 L1221.0 594.9 L1222.0 594.9 L1222.9 594.9 L1223.9 594.9 L1224.8 594.9 L1225.8 594.9 L1226.7 594.9 L1227.7 594.9 L1228.6 594.9 L1229.6 594.9 L1230.5 594.9 L1231.4 594.9 L1232.4 594.9 L1233.3 594.9 L1234.3 594.9 L1235.2 594.9 L1236.2 594.9 L1237.1 594.9 L1238.1 594.9 L1239.0 594.9 L1240.0 594.9 L1240.9 594.9 L1241.9 594.9 L1242.8 594.9 L1243.8 594.9 L1244.7 594.9 L1245.6 594.9 L1246.6 594.9 L1247.5 594.9 L1248.5 594.9 L1249.4 594.9 L1250.4 594.9 L1251.3 594.9 L1252.3 594.9 L1253.2 594.9 L1254.2 594.9 L1255.1 594.9 L1256.1 594.9 L1257.0 594.9 L1257.9 594.9 L1258.9 594.9 L1259.8 594.9 L1260.8 594.9 L1261.7 594.9 L1262.7 594.9 L1263.6 594.9 L1264.6 594.9 L1265.5 594.9 L1266.5 594.9 L1267.4 594.9 L1268.4 594.9 L1269.3 594.9 L1270.3 594.9 L1271.2 594.9 L1272.1 594.9 L1273.1 594.9 L1274.0 594.9 L1275.0 594.9 L1275.9 594.8 L1276.9 594.8 L1277.8 594.8 L1278.8 594.8 L1279.7 594.8 L1280.7 594.8 L1281.6 594.8 L1282.6 594.8 L1283.5 594.8 L1284.5 594.8 L1285.4 594.8 L1286.3 594.8 L1287.3 594.8 L1288.2 594.8 L1289.2 594.8 L1290.1 594.8 L1291.1 594.8 L1292.0 594.8 L1293.0 594.8 L1293.9 594.8 L1294.9 594.8 L1295.8 594.8 L1296.8 594.8 L1297.7 594.8 L1298.7 594.8 L1299.6 594.8 L1300.5 594.8 L1301.5 594.8 L1302.4 594.8 L1303.4 594.8 L1304.3 594.8 L1305.3 594.8 L1306.2 594.8 L1307.2 594.8 L1308.1 594.8 L1309.1 594.8 L1310.0 594.8 L1311.0 594.8 L1311.9 594.8 L1312.9 594.8 L1313.8 594.8 L1314.7 594.8 L1315.7 594.8 L1316.6 594.8 L1317.6 594.8 L1318.5 594.8 L1319.5 594.8 L1320.4 594.8 L1321.4 594.8 L1322.3 594.8 L1323.3 594.8 L1324.2 594.8 L1325.2 594.8 L1326.1 594.8 L1327.1 594.7 L1328.0 594.7 L1328.9 594.7 L1329.9 594.7 L1330.8 594.7 L1331.8 594.7 L1332.7 594.7 L1333.7 594.7 L1334.6 594.7 L1335.6 594.7 L1336.5 594.7 L1337.5 594.7 L1338.4 594.7 L1339.4 594.7 L1340.3 594.7 L1341.3 594.7 L1342.2 594.7 L1343.1 594.6 L1344.1 594.6 L1345.0 594.6 L1346.0 594.6 L1346.9 594.6 L1347.9 594.6 L1348.8 594.6 L1349.8 594.6 L1350.7 594.6 L1351.7 594.5 L1352.6 594.5 L1353.6 594.5 L1354.5 594.5 L1355.4 594.5 L1356.4 594.5 L1357.3 594.4 L1358.3 594.4 L1359.2 594.4 L1360.2 594.4 L1361.1 594.4 L1362.1 594.3 L1363.0 594.3 L1364.0 594.3 L1364.9 594.3 L1365.9 594.2 L1366.8 594.2 L1367.8 594.1 L1368.7 594.1 L1369.6 594.1 L1370.6 594.0 L1371.5 594.0 L1372.5 593.9 L1373.4 593.8 L1374.4 593.8 L1375.3 593.7 L1376.3 593.6 L1377.2 593.5 L1378.2 593.4 L1379.1 593.3 L1380.1 593.1 L1381.0 592.9 L1382.0 592.7 L1382.9 592.3 L1383.8 591.9 L1384.8 591.2 L1385.7 590.4 L1386.7 589.2 L1387.6 587.5 L1388.6 585.3 L1389.5 582.5 L1390.5 578.7 L1391.4 574.0 L1392.4 568.2 L1393.3 561.2 L1394.3 552.9 L1395.2 543.5 L1396.2 533.2 L1397.1 522.1 L1398.0 510.7 L1399.0 499.4 L1399.9 488.9 L1400.9 479.7 L1401.8 472.4 L1402.8 467.7 L1403.7 465.9 L1404.7 467.2 L1405.6 471.5 L1406.6 478.4 L1407.5 487.3 L1408.5 497.7 L1409.4 508.9 L1410.4 520.3 L1411.3 531.5 L1412.2 542.0 L1413.2 551.5 L1414.1 559.9 L1415.1 567.2 L1416.0 573.2 L1417.0 578.1 L1417.9 581.9 L1418.9 584.9 L1419.8 587.2 L1420.8 588.9 L1421.7 590.2 L1422.7 591.1 L1423.6 591.8 L1424.6 592.3 L1425.5 592.6 L1426.4 592.9 L1427.4 593.1 L1428.3 593.3 L1429.3 593.4 L1430.2 593.5 L1431.2 593.6 L1432.1 593.7 L1433.1 593.8 L1434.0 593.8 L1435.0 593.9 L1435.9 593.9 L1436.9 594.0 L1437.8 594.1 L1438.7 594.1 L1439.7 594.1 L1440.6 594.2 L1441.6 594.2 L1442.5 594.2 L1443.5 594.3 L1444.4 594.3 L1445.4 594.3 L1446.3 594.4 L1447.3 594.4 L1448.2 594.4 L1449.2 594.4 L1450.1 594.4 L1451.1 594.5 L1452.0 594.5 L1452.9 594.5 L1453.9 594.5 L1454.8 594.5 L1455.8 594.5 L1456.7 594.6 L1457.7 594.6 L1458.6 594.6 L1459.6 594.6 L1460.5 594.6 L1461.5 594.6 L1462.4 594.6 L1463.4 594.6 L1464.3 594.6 L1465.3 594.6 L1466.2 594.7 L1467.1 594.7 L1468.1 594.7 L1469.0 594.7 L1470.0 594.7 L1470.9 594.7 L1471.9 594.7 L1472.8 594.7 L1473.8 594.7 L1474.7 594.7 L1475.7 594.7 L1476.6 594.7 L1477.6 594.7 L1478.5 594.7 L1479.5 594.7 L1480.4 594.7 L1481.3 594.7 L1482.3 594.7 L1483.2 594.7 L1484.2 594.8 L1485.1 594.8 L1486.1 594.8 L1487.0 594.8 L1488.0 594.8 L1488.9 594.8 L1489.9 594.8 L1490.8 594.8 L1491.8 594.8 L1492.7 594.8 L1493.7 594.8 L1494.6 594.8 L1495.5 594.8 L1496.5 594.8 L1497.4 594.8 L1498.4 594.8 L1499.3 594.8 L1500.3 594.8 L1501.2 594.8 L1502.2 594.8 L1503.1 594.8 L1504.1 594.8 L1505.0 594.8 L1506.0 594.8 L1506.9 594.8 L1507.9 594.8 L1508.8 594.8 L1509.7 594.8 L1510.7 594.8 L1511.6 594.8 L1512.6 594.8 L1513.5 594.8 L1514.5 594.8 L1515.4 594.8 L1516.4 594.8 L1517.3 594.8 L1518.3 594.8 L1519.2 594.8 L1520.2 594.8 L1521.1 594.8 L1522.1 594.8 L1523.0 594.8 L1523.9 594.8 L1524.9 594.8 L1525.8 594.8 L1526.8 594.8 L1527.7 594.8 L1528.7 594.8 L1529.6 594.8 L1530.6 594.8 L1531.5 594.8 L1532.5 594.8 L1533.4 594.8 L1534.4 594.8 L1535.3 594.8 L1536.2 594.8 L1537.2 594.8 L1538.1 594.8 L1539.1 594.8 L1540.0 594.8 L1541.0 594.8 L1541.9 594.8 L1542.9 594.8 L1543.8 594.8 L1544.8 594.8 L1545.7 594.8 L1546.7 594.8 L1547.6 594.8 L1548.6 594.8 L1549.5 594.8 L1550.4 594.8 L1551.4 594.8 L1552.3 594.8 L1553.3 594.8 L1554.2 594.8 L1555.2 594.8 L1556.1 594.8 L1557.1 594.8 L1558.0 594.8 L1559.0 594.8 L1559.9 594.8 L1560.9 594.8 L1561.8 594.8 L1562.8 594.8 L1563.7 594.8 L1564.6 594.8 L1565.6 594.8 L1566.5 594.8 L1567.5 594.8 L1568.4 594.8 L1569.4 594.8 L1570.3 594.8 L1571.3 594.8 L1572.2 594.8 L1573.2 594.8 L1574.1 594.8 L1575.1 594.8 L1576.0 594.8 L1577.0 594.8 L1577.9 594.8 L1578.8 594.7 L1579.8 594.7 L1580.7 594.7 L1581.7 594.7 L1582.6 594.7 L1583.6 594.7 L1584.5 594.7 L1585.5 594.7 L1586.4 594.7 L1587.4 594.7 L1588.3 594.7 L1589.3 594.7 L1590.2 594.7 L1591.2 594.7 L1592.1 594.7 L1593.0 594.7 L1594.0 594.7 L1594.9 594.7 L1595.9 594.7 L1596.8 594.7 L1597.8 594.6 L1598.7 594.6 L1599.7 594.6 L1600.6 594.6 L1601.6 594.6 L1602.5 594.6 L1603.5 594.6 L1604.4 594.6 L1605.4 594.6 L1606.3 594.6 L1607.2 594.5 L1608.2 594.5 L1609.1 594.5 L1610.1 594.5 L1611.0 594.5 L1612.0 594.5 L1612.9 594.5 L1613.9 594.4 L1614.8 594.4 L1615.8 594.4 L1616.7 594.4 L1617.7 594.4 L1618.6 594.3 L1619.6 594.3 L1620.5 594.3 L1621.4 594.3 L1622.4 594.2 L1623.3 594.2 L1624.3 594.2 L1625.2 594.1 L1626.2 594.1 L1627.1 594.1 L1628.1 594.0 L1629.0 594.0 L1630.0 593.9 L1630.9 593.9 L1631.9 593.8 L1632.8 593.7 L1633.7 593.7 L1634.7 593.6 L1635.6 593.5 L1636.6 593.4 L1637.5 593.2 L1638.5 593.1 L1639.4 592.9 L1640.4 592.6 L1641.3 592.3 L1642.3 591.9 L1643.2 591.2 L1644.2 590.4 L1645.1 589.2 L1646.1 587.5 L1647.0 585.3 L1647.9 582.4 L1648.9 578.6 L1649.8 573.6 L1650.8 567.4 L1651.7 559.7 L1652.7 550.4 L1653.6 539.4 L1654.6 526.7 L1655.5 512.5 L1656.5 497.0 L1657.4 480.6 L1658.4 463.7 L1659.3 447.0 L1660.3 431.2 L1661.2 417.1 L1662.1 405.4 L1663.1 396.8 L1664.0 391.9 L1665.0 391.0 L1665.9 392.3 L1666.9 395.1 L1667.8 399.3 L1668.8 404.8 L1669.7 411.4 L1670.7 419.0 L1671.6 427.4 L1672.6 436.4 L1673.5 445.7 L1674.5 455.3 L1675.4 465.0 L1676.3 474.7 L1677.3 484.1 L1678.2 493.4 L1679.2 502.3 L1680.1 510.7 L1681.1 518.8 L1682.0 526.3 L1683.0 533.3 L1683.9 539.7 L1684.9 545.6 L1685.8 551.0 L1686.8 555.9 L1687.7 560.2 L1688.7 564.1 L1689.6 567.6 L1690.5 570.6 L1691.5 573.3 L1692.4 575.6 L1693.4 577.6 L1694.3 579.4 L1695.3 580.9 L1696.2 582.2 L1697.2 583.3 L1698.1 584.3 L1699.1 585.2 L1700.0 585.9 L1701.0 586.5 L1701.9 587.1 L1702.9 587.6 L1703.8 588.0 L1704.7 588.4 L1705.7 588.7 L1706.6 589.0 L1707.6 589.3 L1708.5 589.5 L1709.5 589.8 L1710.4 590.0 L1711.4 590.2 L1712.3 590.4 L1713.3 590.5 L1714.2 590.7 L1715.2 590.8 L1716.1 591.0 L1717.1 591.1 L1718.0 591.2 L1718.9 591.4 L1719.9 591.5 L1720.8 591.6 L1721.8 591.7 L1722.7 591.8 L1723.7 591.9 L1724.6 592.0 L1725.6 592.1 L1726.5 592.1 L1727.5 592.2 L1728.4 592.3 L1729.4 592.4 L1730.3 592.4 L1731.2 592.5 L1732.2 592.6 L1733.1 592.6 L1734.1 592.7 L1735.0 592.8 L1736.0 592.8 L1736.9 592.9 L1737.9 592.9 L1738.8 593.0 L1739.8 593.0 L1740.7 593.1 L1741.7 593.1 L1742.6 593.1 L1743.6 593.2 L1744.5 593.2 L1745.4 593.3 L1746.4 593.3 L1747.3 593.3 L1748.3 593.4 L1749.2 593.4 L1750.2 593.4 L1751.1 593.5 L1752.1 593.5 L1753.0 593.5 L1754.0 593.6 L1754.9 593.6 L1755.9 593.6 L1756.8 593.6 L1757.8 593.7 L1758.7 593.7 L1759.6 593.7 L1760.6 593.7 L1761.5 593.7 L1762.5 593.8 L1763.4 593.8 L1764.4 593.8 L1765.3 593.8 L1766.3 593.8 L1767.2 593.9 L1768.2 593.9 L1769.1 593.9 L1770.1 593.9 L1771.0 593.9 L1772.0 593.9 L1772.9 593.9 L1773.8 593.9 L1774.8 593.9 L1775.7 593.9 L1776.7 593.9 L1777.6 593.9 L1778.6 593.8 L1779.5 593.8 L1780.5 593.7 L1781.4 593.6 L1782.4 593.5 L1783.3 593.3 L1784.3 593.1 L1785.2 592.9 L1786.2 592.6 L1787.1 592.2 L1788.0 591.8 L1789.0 591.3 L1789.9 590.8 L1790.9 590.2 L1791.8 589.6 L1792.8 588.8 L1793.7 588.1 L1794.7 587.2 L1795.6 586.4 L1796.6 585.5 L1797.5 584.6 L1798.5 583.8 L1799.4 582.9 L1800.4 582.1 L1801.3 581.4 L1802.2 580.7 L1803.2 580.2 L1804.1 579.8 L1805.1 579.5 L1806.0 579.3 L1807.0 579.3 L1807.9 579.5 L1808.9 579.7 L1809.8 580.1 L1810.8 580.7 L1811.7 581.3 L1812.7 582.0 L1813.6 582.8 L1814.6 583.7 L1815.5 584.6 L1816.4 585.5 L1817.4 586.3 L1818.3 587.2 L1819.3 588.1 L1820.2 588.9 L1821.2 589.6 L1822.1 590.3 L1823.1 590.9 L1824.0 591.5 L1825.0 591.9 L1825.9 592.4 L1826.9 592.7 L1827.8 593.1 L1828.7 593.3 L1829.7 593.6 L1830.6 593.7 L1831.6 593.9 L1832.5 594.0 L1833.5 594.1 L1834.4 594.2 L1835.4 594.2 L1836.3 594.3 L1837.3 594.3 L1838.2 594.3 L1839.2 594.4 L1840.1 594.4 L1841.1 594.4 L1842.0 594.4 L1842.9 594.4 L1843.9 594.4 L1844.8 594.4 L1845.8 594.4 L1846.7 594.4 L1847.7 594.4 L1848.6 594.4 L1849.6 594.4 L1850.5 594.4 L1851.5 594.4 L1852.4 594.4 L1853.4 594.4 L1854.3 594.4 L1855.3 594.4 L1856.2 594.4 L1857.1 594.4 L1858.1 594.4 L1859.0 594.4 L1860.0 594.4 L1860.9 594.3 L1861.9 594.3 L1862.8 594.3 L1863.8 594.3 L1864.7 594.3 L1865.7 594.3 L1866.6 594.3 L1867.6 594.3 L1868.5 594.3 L1869.5 594.3 L1870.4 594.3 L1871.3 594.2 L1872.3 594.2 L1873.2 594.2 L1874.2 594.2 L1875.1 594.2 L1876.1 594.2 L1877.0 594.2 L1878.0 594.1 L1878.9 594.1 L1879.9 594.1 L1880.8 594.1 L1881.8 594.1 L1882.7 594.0 L1883.7 594.0 L1884.6 594.0 L1885.5 593.9 L1886.5 593.9 L1887.4 593.9 L1888.4 593.8 L1889.3 593.8 L1890.3 593.7 L1891.2 593.7 L1892.2 593.6 L1893.1 593.6 L1894.1 593.5 L1895.0 593.4 L1896.0 593.3 L1896.9 593.1 L1897.9 593.0 L1898.8 592.8 L1899.7 592.5 L1900.7 592.2 L1901.6 591.8 L1902.6 591.3 L1903.5 590.7 L1904.5 589.9 L1905.4 589.0 L1906.4 587.9 L1907.3 586.6 L1908.3 585.1 L1909.2 583.3 L1910.2 581.3 L1911.1 579.0 L1912.0 576.5 L1913.0 573.8 L1913.9 570.9 L1914.9 567.9 L1915.8 564.8 L1916.8 561.7 L1917.7 558.7 L1918.7 555.8 L1919.6 553.2 L1920.6 551.0 L1921.5 549.2 L1922.5 547.8 L1923.4 546.9 L1924.4 546.4 L1925.3 546.4 L1926.2 546.6 L1927.2 547.0 L1928.1 547.4 L1929.1 547.8 L1930.0 548.0 L1931.0 547.9 L1931.9 547.6 L1932.9 546.9 L1933.8 545.9 L1934.8 544.6 L1935.7 543.0 L1936.7 541.4 L1937.6 539.7 L1938.6 538.2 L1939.5 537.0 L1940.4 536.2 L1941.4 535.9 L1942.3 536.3 L1943.3 537.3 L1944.2 539.1 L1945.2 541.4 L1946.1 544.3 L1947.1 547.6 L1948.0 551.3 L1949.0 555.1 L1949.9 559.0 L1950.9 562.9 L1951.8 566.6 L1952.8 570.2 L1953.7 573.5 L1954.6 576.5 L1955.6 579.3 L1956.5 581.7 L1957.5 583.8 L1958.4 585.6 L1959.4 587.1 L1960.3 588.4 L1961.3 589.5 L1962.2 590.3 L1963.2 591.0 L1964.1 591.6 L1965.1 592.0 L1966.0 592.4 L1967.0 592.7 L1967.9 592.9 L1968.8 593.1 L1969.8 593.2 L1970.7 593.4 L1971.7 593.5 L1972.6 593.6 L1973.6 593.6 L1974.5 593.7 L1975.5 593.8 L1976.4 593.8 L1977.4 593.9 L1978.3 593.9 L1979.3 594.0 L1980.2 594.0 L1981.2 594.0 L1982.1 594.1 L1983.0 594.1 L1984.0 594.1 L1984.9 594.2 L1985.9 594.2 L1986.8 594.2 L1987.8 594.2 L1988.7 594.3 L1989.7 594.3 L1990.6 594.3 L1991.6 594.3 L1992.5 594.3 L1993.5 594.4 L1994.4 594.4 L1995.4 594.4 L1996.3 594.4 L1997.2 594.4 L1998.2 594.4 L1999.1 594.5 L2000.1 594.5 L2001.0 594.5 L2002.0 594.5 L2002.9 594.5 L2003.9 594.5 L2004.8 594.5 L2005.8 594.5 L2006.7 594.5 L2007.7 594.6 L2008.6 594.6 L2009.5 594.6 L2010.5 594.6 L2011.4 594.6 L2012.4 594.6 L2013.3 594.6 L2014.3 594.6 L2015.2 594.6 L2016.2 594.6 L2017.1 594.6 L2018.1 594.6 L2019.0 594.6 L2020.0 594.7 L2020.9 594.7 L2021.9 594.7 L2022.8 594.7 L2023.7 594.7 L2024.7 594.7 L2025.6 594.7 L2026.6 594.7 L2027.5 594.7 L2028.5 594.7 L2029.4 594.7 L2030.4 594.7 L2031.3 594.7 L2032.3 594.7 L2033.2 594.7 L2034.2 594.7 L2035.1 594.7 L2036.1 594.7 L2037.0 594.7 L2037.9 594.7 L2038.9 594.7 L2039.8 594.7 L2040.8 594.8 L2041.7 594.8 L2042.7 594.8 L2043.6 594.8 L2044.6 594.8 L2045.5 594.8 L2046.5 594.8 L2047.4 594.8 L2048.4 594.8 L2049.3 594.8 L2050.3 594.8 L2051.2 594.8 L2052.1 594.8" stroke="#00f"/>
<path d="M158.0 284.3 L158.9 284.3 L159.9 284.3 L160.8 284.3 L161.8 284.3 L162.7 284.3 L163.7 284.3 L164.6 284.3 L165.6 284.3 L166.5 284.2 L167.5 284.2 L168.4 284.2 L169.4 284.2 L170.3 284.2 L171.3 284.2 L172.2 284.2 L173.1 284.2 L174.1 284.2 L175.0 284.2 L176.0 284.2 L176.9 284.2 L177.9 284.2 L178.8 284.2 L179.8 284.2 L180.7 284.2 L181.7 284.2 L182.6 284.2 L183.6 284.2 L184.5 284.1 L185.5 284.1 L186.4 284.0 L187.3 283.9 L188.3 283.8 L189.2 283.6 L190.2 283.4 L191.1 283.2 L192.1 283.0 L193.0 282.8 L194.0 282.6 L194.9 282.4 L195.9 282.2 L196.8 282.0 L197.8 281.8 L198.7 281.6 L199.7 281.4 L200.6 281.3 L201.5 281.2 L202.5 281.1 L203.4 281.0 L204.4 281.0 L205.3 280.9 L206.3 280.9 L207.2 280.9 L208.2 280.9 L209.1 280.8 L210.1 280.8 L211.0 280.8 L212.0 280.8 L212.9 280.7 L213.8 280.7 L214.8 280.7 L215.7 280.7 L216.7 280.6 L217.6 280.6 L218.6 280.6 L219.5 280.6 L220.5 280.5 L221.4 280.5 L222.4 280.5 L223.3 280.4 L224.3 280.4 L225.2 280.4 L226.2 280.3 L227.1 280.3 L228.0 280.3 L229.0 280.2 L229.9 280.2 L230.9 280.1 L231.8 280.0 L232.8 280.0 L233.7 279.9 L234.7 279.8 L235.6 279.7 L236.6 279.6 L237.5 279.5 L238.5 279.3 L239.4 279.2 L240.4 279.0 L241.3 278.9 L242.2 278.7 L243.2 278.5 L244.1 278.4 L245.1 278.2 L246.0 278.1 L247.0 277.9 L247.9 277.8 L248.9 277.6 L249.8 277.5 L250.8 277.3 L251.7 277.2 L252.7 277.1 L253.6 276.9 L254.6 276.8 L255.5 276.6 L256.4 276.5 L257.4 276.3 L258.3 276.1 L259.3 275.9 L260.2 275.7 L261.2 275.5 L262.1 275.2 L263.1 274.9 L264.0 274.6 L265.0 274.2 L265.9 273.8 L266.9 273.3 L267.8 272.8 L268.8 272.1 L269.7 271.3 L270.6 270.2 L271.6 268.9 L272.5 267.0 L273.5 264.4 L274.4 260.6 L275.4 255.1 L276.3 247.3 L277.3 236.5 L278.2 222.0 L279.2 203.2 L280.1 179.9 L281.1 152.3 L282.0 121.3 L283.0 88.7 L283.9 56.8 L284.8 28.9 L285.8 9.0 L286.7 0.3 L287.7 4.6 L288.6 21.0 L289.6 46.6 L290.5 77.5 L291.5 110.2 L292.4 142.0 L293.4 170.9 L294.3 195.7 L295.3 216.1 L296.2 232.0 L297.2 244.0 L298.1 252.7 L299.0 258.9 L300.0 263.2 L300.9 266.2 L301.9 268.3 L302.8 269.8 L303.8 271.0 L304.7 271.8 L305.7 272.5 L306.6 273.1 L307.6 273.6 L308.5 274.1 L309.5 274.5 L310.4 274.8 L311.3 275.1 L312.3 275.4 L313.2 275.6 L314.2 275.9 L315.1 276.1 L316.1 276.2 L317.0 276.4 L318.0 276.6 L318.9 276.7 L319.9 276.8 L320.8 276.9 L321.8 277.0 L322.7 277.1 L323.7 277.2 L324.6 277.3 L325.5 277.4 L326.5 277.4 L327.4 277.5 L328.4 277.6 L329.3 277.6 L330.3 277.7 L331.2 277.7 L332.2 277.8 L333.1 277.8 L334.1 277.8 L335.0 277.9 L336.0 277.9 L336.9 277.9 L337.9 277.9 L338.8 277.9 L339.7 278.0 L340.7 278.0 L341.6 278.0 L342.6 278.0 L343.5 278.0 L344.5 278.0 L345.4 278.0 L346.4 278.0 L347.3 278.0 L348.3 278.0 L349.2 277.9 L350.2 277.9 L351.1 277.9 L352.1 277.9 L353.0 277.8 L353.9 277.8 L354.9 277.7 L355.8 277.7 L356.8 277.6 L357.7 277.5 L358.7 277.4 L359.6 277.2 L360.6 277.1 L361.5 276.9 L362.5 276.6 L363.4 276.3 L364.4 275.9 L365.3 275.3 L366.3 274.7 L367.2 273.9 L368.1 273.0 L369.1 271.9 L370.0 270.6 L371.0 269.2 L371.9 267.6 L372.9 265.8 L373.8 263.9 L374.8 262.1 L375.7 260.2 L376.7 258.6 L377.6 257.2 L378.6 256.3 L379.5 255.9 L380.5 256.2 L381.4 257.0 L382.3 258.3 L383.3 259.9 L384.2 261.7 L385.2 263.6 L386.1 265.5 L387.1 267.3 L388.0 268.9 L389.0 270.4 L389.9 271.7 L390.9 272.9 L391.8 273.9 L392.8 274.7 L393.7 275.3 L394.6 275.9 L395.6 276.3 L396.5 276.7 L397.5 276.9 L398.4 277.2 L399.4 277.4 L400.3 277.5 L401.3 277.6 L402.2 277.7 L403.2 277.8 L404.1 277.9 L405.1 277.9 L406.0 278.0 L407.0 278.0 L407.9 278.1 L408.8 278.1 L409.8 278.2 L410.7 278.2 L411.7 278.2 L412.6 278.2 L413.6 278.2 L414.5 278.2 L415.5 278.3 L416.4 278.3 L417.4 278.3 L418.3 278.3 L419.3 278.3 L420.2 278.3 L421.2 278.3 L422.1 278.3 L423.0 278.2 L424.0 278.2 L424.9 278.2 L425.9 278.2 L426.8 278.2 L427.8 278.2 L428.7 278.1 L429.7 278.1 L430.6 278.1 L431.6 278.0 L432.5 278.0 L433.5 277.9 L434.4 277.9 L435.4 277.9 L436.3 277.8 L437.2 277.7 L438.2 277.7 L439.1 277.6 L440.1 277.5 L441.0 277.4 L442.0 277.3 L442.9 277.2 L443.9 277.1 L444.8 277.0 L445.8 276.9 L446.7 276.7 L447.7 276.5 L448.6 276.4 L449.6 276.2 L450.5 275.9 L451.4 275.7 L452.4 275.4 L453.3 275.1 L454.3 274.7 L455.2 274.3 L456.2 273.8 L457.1 273.2 L458.1 272.6 L459.0 271.8 L460.0 270.8 L460.9 269.7 L461.9 268.3 L462.8 266.5 L463.8 264.4 L464.7 261.7 L465.6 258.6 L466.6 254.7 L467.5 250.1 L468.5 244.9 L469.4 238.9 L470.4 232.5 L471.3 225.9 L472.3 220.0 L473.2 215.5 L474.2 213.4 L475.1 214.1 L476.1 217.5 L477.0 222.8 L478.0 229.2 L478.9 235.7 L479.8 242.0 L480.8 247.6 L481.7 252.5 L482.7 256.7 L483.6 260.3 L484.6 263.2 L485.5 265.5 L486.5 267.5 L487.4 269.0 L488.4 270.3 L489.3 271.4 L490.3 272.2 L491.2 273.0 L492.1 273.6 L493.1 274.1 L494.0 274.5 L495.0 274.9 L495.9 275.3 L496.9 275.6 L497.8 275.9 L498.8 276.1 L499.7 276.3 L500.7 276.5 L501.6 276.7 L502.6 276.9 L503.5 277.0 L504.5 277.1 L505.4 277.3 L506.3 277.4 L507.3 277.5 L508.2 277.6 L509.2 277.7 L510.1 277.7 L511.1 277.8 L512.0 277.9 L513.0 277.9 L513.9 278.0 L514.9 278.1 L515.8 278.1 L516.8 278.2 L517.7 278.2 L518.7 278.2 L519.6 278.3 L520.5 278.3 L521.5 278.4 L522.4 278.4 L523.4 278.4 L524.3 278.4 L525.3 278.5 L526.2 278.5 L527.2 278.5 L528.1 278.5 L529.1 278.6 L530.0 278.6 L531.0 278.6 L531.9 278.6 L532.9 278.6 L533.8 278.7 L534.7 278.7 L535.7 278.7 L536.6 278.7 L537.6 278.7 L538.5 278.7 L539.5 278.7 L540.4 278.7 L541.4 278.8 L542.3 278.8 L543.3 278.8 L544.2 278.8 L545.2 278.8 L546.1 278.8 L547.1 278.8 L548.0 278.8 L548.9 278.8 L549.9 278.8 L550.8 278.8 L551.8 278.8 L552.7 278.8 L553.7 278.8 L554.6 278.9 L555.6 278.9 L556.5 278.9 L557.5 278.9 L558.4 278.9 L559.4 278.9 L560.3 278.9 L561.3 278.9 L562.2 278.9 L563.1 278.9 L564.1 278.9 L565.0 278.9 L566.0 278.9 L566.9 278.9 L567.9 278.9 L568.8 278.9 L569.8 278.9 L570.7 278.9 L571.7 278.9 L572.6 278.9 L573.6 278.9 L574.5 278.9 L575.5 278.9 L576.4 278.9 L577.3 278.9 L578.3 278.9 L579.2 278.9 L580.2 278.9 L581.1 278.9 L582.1 278.9 L583.0 278.9 L584.0 278.9 L584.9 278.8 L585.9 278.8 L586.8 278.8 L587.8 278.8 L588.7 278.8 L589.6 278.8 L590.6 278.8 L591.5 278.8 L592.5 278.8 L593.4 278.8 L594.4 278.8 L595.3 278.8 L596.3 278.8 L597.2 278.8 L598.2 278.8 L599.1 278.8 L600.1 278.8 L601.0 278.8 L602.0 278.8 L602.9 278.7 L603.8 278.7 L604.8 278.7 L605.7 278.7 L606.7 278.7 L607.6 278.7 L608.6 278.7 L609.5 278.7 L610.5 278.7 L611.4 278.7 L612.4 278.7 L613.3 278.7 L614.3 278.6 L615.2 278.6 L616.2 278.6 L617.1 278.6 L618.0 278.6 L619.0 278.6 L619.9 278.6 L620.9 278.6 L621.8 278.5 L622.8 278.5 L623.7 278.5 L624.7 278.5 L625.6 278.5 L626.6 278.5 L627.5 278.5 L628.5 278.4 L629.4 278.4 L630.4 278.4 L631.3 278.4 L632.2 278.4 L633.2 278.4 L634.1 278.3 L635.1 278.3 L636.0 278.3 L637.0 278.3 L637.9 278.3 L638.9 278.2 L639.8 278.2 L640.8 278.2 L641.7 278.2 L642.7 278.1 L643.6 278.1 L644.6 278.1 L645.5 278.1 L646.4 278.0 L647.4 278.0 L648.3 278.0 L649.3 277.9 L650.2 277.9 L651.2 277.9 L652.1 277.8 L653.1 277.8 L654.0 277.8 L655.0 277.7 L655.9 277.7 L656.9 277.6 L657.8 277.6 L658.8 277.6 L659.7 277.5 L660.6 277.5 L661.6 277.4 L662.5 277.4 L663.5 277.3 L664.4 277.3 L665.4 277.2 L666.3 277.1 L667.3 277.1 L668.2 277.0 L669.2 276.9 L670.1 276.9 L671.1 276.8 L672.0 276.7 L673.0 276.6 L673.9 276.5 L674.8 276.5 L675.8 276.4 L676.7 276.3 L677.7 276.2 L678.6 276.1 L679.6 275.9 L680.5 275.8 L681.5 275.7 L682.4 275.6 L683.4 275.4 L684.3 275.3 L685.3 275.1 L686.2 275.0 L687.1 274.8 L688.1 274.6 L689.0 274.4 L690.0 274.1 L690.9 273.8 L691.9 273.4 L692.8 273.0 L693.8 272.4 L694.7 271.6 L695.7 270.6 L696.6 269.3 L697.6 267.7 L698.5 265.7 L699.5 263.3 L700.4 260.6 L701.3 257.7 L702.3 254.7 L703.2 251.8 L704.2 249.2 L705.1 247.0 L706.1 245.6 L707.0 244.9 L708.0 245.0 L708.9 245.7 L709.9 247.0 L710.8 248.5 L711.8 250.0 L712.7 251.4 L713.7 252.4 L714.6 253.1 L715.5 253.1 L716.5 252.6 L717.4 251.5 L718.4 249.7 L719.3 247.2 L720.3 244.0 L721.2 239.9 L722.2 234.8 L723.1 228.6 L724.1 221.0 L725.0 211.8 L726.0 200.8 L726.9 187.7 L727.9 172.5 L728.8 154.9 L729.7 135.0 L730.7 113.0 L731.6 89.0 L732.6 63.7 L733.5 38.1 L734.5 13.5 L735.4 -8.1 L736.4 -24.7 L737.3 -34.1 L738.3 -35.1 L739.2 -27.5 L740.2 -12.4 L741.1 8.3 L742.1 32.3 L743.0 57.9 L743.9 83.3 L744.9 107.7 L745.8 130.2 L746.8 150.6 L747.7 168.7 L748.7 184.5 L749.6 198.0 L750.6 209.5 L751.5 219.2 L752.5 227.2 L753.4 233.8 L754.4 239.3 L755.3 243.8 L756.3 247.5 L757.2 250.6 L758.1 253.3 L759.1 255.5 L760.0 257.4 L761.0 259.1 L761.9 260.5 L762.9 261.8 L763.8 263.0 L764.8 264.0 L765.7 265.0 L766.7 265.8 L767.6 266.6 L768.6 267.3 L769.5 267.9 L770.5 268.5 L771.4 269.0 L772.3 269.5 L773.3 270.0 L774.2 270.4 L775.2 270.8 L776.1 271.1 L777.1 271.5 L778.0 271.8 L779.0 272.0 L779.9 272.3 L780.9 272.5 L781.8 272.7 L782.8 272.9 L783.7 273.1 L784.6 273.3 L785.6 273.4 L786.5 273.5 L787.5 273.6 L788.4 273.7 L789.4 273.8 L790.3 273.8 L791.3 273.8 L792.2 273.8 L793.2 273.7 L794.1 273.6 L795.1 273.5 L796.0 273.2 L797.0 272.9 L797.9 272.6 L798.8 272.1 L799.8 271.5 L800.7 270.7 L801.7 269.8 L802.6 268.8 L803.6 267.6 L804.5 266.2 L805.5 264.7 L806.4 263.0 L807.4 261.2 L808.3 259.4 L809.3 257.5 L810.2 255.8 L811.2 254.2 L812.1 252.9 L813.0 251.9 L814.0 251.5 L814.9 251.6 L815.9 252.2 L816.8 253.3 L817.8 254.7 L818.7 256.5 L819.7 258.3 L820.6 260.3 L821.6 262.2 L822.5 264.1 L823.5 265.8 L824.4 267.4 L825.4 268.9 L826.3 270.2 L827.2 271.3 L828.2 272.3 L829.1 273.1 L830.1 273.8 L831.0 274.4 L832.0 274.9 L832.9 275.4 L833.9 275.7 L834.8 276.0 L835.8 276.2 L836.7 276.4 L837.7 276.6 L838.6 276.8 L839.6 276.9 L840.5 277.0 L841.4 277.1 L842.4 277.2 L843.3 277.3 L844.3 277.3 L845.2 277.4 L846.2 277.5 L847.1 277.5 L848.1 277.6 L849.0 277.6 L850.0 277.7 L850.9 277.7 L851.9 277.7 L852.8 277.8 L853.8 277.8 L854.7 277.8 L855.6 277.8 L856.6 277.8 L857.5 277.8 L858.5 277.7 L859.4 277.7 L860.4 277.6 L861.3 277.4 L862.3 277.2 L863.2 276.9 L864.2 276.4 L865.1 275.9 L866.1 275.2 L867.0 274.4 L868.0 273.4 L868.9 272.4 L869.8 271.2 L870.8 270.1 L871.7 269.0 L872.7 268.0 L873.6 267.2 L874.6 266.7 L875.5 266.5 L876.5 266.7 L877.4 267.3 L878.4 268.1 L879.3 269.1 L880.3 270.3 L881.2 271.5 L882.1 272.6 L883.1 273.7 L884.0 274.7 L885.0 275.5 L885.9 276.2 L886.9 276.8 L887.8 277.2 L888.8 277.5 L889.7 277.8 L890.7 278.0 L891.6 278.1 L892.6 278.2 L893.5 278.3 L894.5 278.3 L895.4 278.4 L896.3 278.4 L897.3 278.4 L898.2 278.4 L899.2 278.4 L900.1 278.4 L901.1 278.4 L902.0 278.4 L903.0 278.4 L903.9 278.4 L904.9 278.3 L905.8 278.3 L906.8 278.2 L907.7 278.1 L908.7 278.0 L909.6 277.8 L910.5 277.5 L911.5 277.1 L912.4 276.6 L913.4 275.8 L914.3 274.9 L915.3 273.6 L916.2 272.1 L917.2 270.4 L918.1 268.4 L919.1 266.3 L920.0 264.2 L921.0 262.3 L921.9 260.6 L922.9 259.4 L923.8 258.8 L924.7 259.0 L925.7 259.8 L926.6 261.2 L927.6 263.0 L928.5 265.0 L929.5 267.1 L930.4 269.2 L931.4 271.1 L932.3 272.7 L933.3 274.1 L934.2 275.2 L935.2 276.1 L936.1 276.8 L937.1 277.3 L938.0 277.6 L938.9 277.9 L939.9 278.1 L940.8 278.2 L941.8 278.2 L942.7 278.3 L943.7 278.3 L944.6 278.4 L945.6 278.4 L946.5 278.4 L947.5 278.4 L948.4 278.4 L949.4 278.4 L950.3 278.4 L951.3 278.4 L952.2 278.4 L953.1 278.4 L954.1 278.4 L955.0 278.4 L956.0 278.3 L956.9 278.3 L957.9 278.3 L958.8 278.3 L959.8 278.3 L960.7 278.2 L961.7 278.2 L962.6 278.2 L963.6 278.1 L964.5 278.1 L965.4 278.0 L966.4 278.0 L967.3 278.0 L968.3 277.9 L969.2 277.8 L970.2 277.8 L971.1 277.7 L972.1 277.6 L973.0 277.5 L974.0 277.4 L974.9 277.3 L975.9 277.1 L976.8 277.0 L977.8 276.8 L978.7 276.5 L979.6 276.2 L980.6 275.8 L981.5 275.3 L982.5 274.7 L983.4 274.0 L984.4 273.0 L985.3 271.9 L986.3 270.5 L987.2 268.7 L988.2 266.7 L989.1 264.2 L990.1 261.4 L991.0 258.1 L992.0 254.4 L992.9 250.2 L993.8 245.6 L994.8 240.6 L995.7 235.4 L996.7 229.9 L997.6 224.4 L998.6 219.0 L999.5 213.8 L1000.5 209.0 L1001.4 204.9 L1002.4 201.6 L1003.3 199.4 L1004.3 198.4 L1005.2 198.5 L1006.2 199.9 L1007.1 202.5 L1008.0 206.0 L1009.0 210.3 L1009.9 215.2 L1010.9 220.5 L1011.8 226.0 L1012.8 231.5 L1013.7 236.9 L1014.7 242.1 L1015.6 246.9 L1016.6 251.4 L1017.5 255.5 L1018.5 259.1 L1019.4 262.3 L1020.4 265.0 L1021.3 267.3 L1022.2 269.3 L1023.2 270.9 L1024.1 272.3 L1025.1 273.3 L1026.0 274.2 L1027.0 274.9 L1027.9 275.5 L1028.9 275.9 L1029.8 276.3 L1030.8 276.6 L1031.7 276.8 L1032.7 277.0 L1033.6 277.2 L1034.6 277.3 L1035.5 277.5 L1036.4 277.6 L1037.4 277.7 L1038.3 277.7 L1039.3 277.8 L1040.2 277.9 L1041.2 277.9 L1042.1 278.0 L1043.1 278.0 L1044.0 278.1 L1045.0 278.1 L1045.9 278.1 L1046.9 278.2 L1047.8 278.2 L1048.8 278.2 L1049.7 278.2 L1050.6 278.3 L1051.6 278.3 L1052.5 278.3 L1053.5 278.3 L1054.4 278.3 L1055.4 278.3 L1056.3 278.3 L1057.3 278.3 L1058.2 278.3 L1059.2 278.3 L1060.1 278.2 L1061.1 278.2 L1062.0 278.2 L1062.9 278.1 L1063.9 278.1 L1064.8 278.0 L1065.8 277.8 L1066.7 277.7 L1067.7 277.4 L1068.6 277.1 L1069.6 276.6 L1070.5 276.0 L1071.5 275.2 L1072.4 274.1 L1073.4 272.8 L1074.3 271.2 L1075.3 269.3 L1076.2 267.1 L1077.1 264.9 L1078.1 262.6 L1079.0 260.4 L1080.0 258.5 L1080.9 257.1 L1081.9 256.5 L1082.8 256.6 L1083.8 257.4 L1084.7 258.8 L1085.7 260.5 L1086.6 262.3 L1087.6 264.1 L1088.5 265.6 L1089.5 266.8 L1090.4 267.6 L1091.3 267.9 L1092.3 267.8 L1093.2 267.3 L1094.2 266.6 L1095.1 265.7 L1096.1 264.8 L1097.0 264.0 L1098.0 263.5 L1098.9 263.4 L1099.9 263.7 L1100.8 264.4 L1101.8 265.5 L1102.7 266.8 L1103.7 268.3 L1104.6 269.8 L1105.5 271.2 L1106.5 272.6 L1107.4 273.8 L1108.4 274.8 L1109.3 275.7 L1110.3 276.4 L1111.2 277.0 L1112.2 277.4 L1113.1 277.8 L1114.1 278.0 L1115.0 278.2 L1116.0 278.4 L1116.9 278.5 L1117.9 278.6 L1118.8 278.7 L1119.7 278.7 L1120.7 278.8 L1121.6 278.8 L1122.6 278.8 L1123.5 278.9 L1124.5 278.9 L1125.4 278.9 L1126.4 279.0 L1127.3 279.0 L1128.3 279.0 L1129.2 279.0 L1130.2 279.0 L1131.1 279.1 L1132.1 279.1 L1133.0 279.1 L1133.9 279.1 L1134.9 279.1 L1135.8 279.1 L1136.8 279.2 L1137.7 279.2 L1138.7 279.2 L1139.6 279.3 L1140.6 279.4 L1141.5 279.4 L1142.5 279.5 L1143.4 279.6 L1144.4 279.7 L1145.3 279.8 L1146.3 279.9 L1147.2 280.1 L1148.1 280.2 L1149.1 280.3 L1150.0 280.5 L1151.0 280.6 L1151.9 280.7 L1152.9 280.8 L1153.8 280.9 L1154.8 281.0 L1155.7 281.0 L1156.7 281.1 L1157.6 281.1 L1158.6 281.2 L1159.5 281.2 L1160.4 281.2 L1161.4 281.2 L1162.3 281.2 L1163.3 281.2 L1164.2 281.2 L1165.2 281.2 L1166.1 281.2 L1167.1 281.2 L1168.0 281.2 L1169.0 281.2 L1169.9 281.2 L1170.9 281.2 L1171.8 281.2 L1172.8 281.2 L1173.7 281.2 L1174.6 281.2 L1175.6 281.2 L1176.5 281.2 L1177.5 281.2 L1178.4 281.2 L1179.4 281.2 L1180.3 281.2 L1181.3 281.2 L1182.2 281.2 L1183.2 281.2 L1184.1 281.2 L1185.1 281.2 L1186.0 281.2 L1187.0 281.2 L1187.9 281.2 L1188.8 281.2 L1189.8 281.2 L1190.7 281.2 L1191.7 281.2 L1192.6 281.2 L1193.6 281.2 L1194.5 281.3 L1195.5 281.3 L1196.4 281.3 L1197.4 281.3 L1198.3 281.3 L1199.3 281.3 L1200.2 281.3 L1201.2 281.3 L1202.1 281.3 L1203.0 281.3 L1204.0 281.3 L1204.9 281.3 L1205.9 281.3 L1206.8 281.3 L1207.8 281.3 L1208.7 281.3 L1209.7 281.3 L1210.6 281.3 L1211.6 281.3 L1212.5 281.3 L1213.5 281.3 L1214.4 281.3 L1215.4 281.3 L1216.3 281.3 L1217.2 281.3 L1218.2 281.3 L1219.1 281.3 L1220.1 281.3 L1221.0 281.3 L1222.0 281.3 L1222.9 281.3 L1223.9 281.3 L1224.8 281.3 L1225.8 281.3 L1226.7 281.3 L1227.7 281.3 L1228.6 281.3 L1229.6 281.3 L1230.5 281.3 L1231.4 281.2 L1232.4 281.2 L1233.3 281.2 L1234.3 281.2 L1235.2 281.2 L1236.2 281.2 L1237.1 281.2 L1238.1 281.2 L1239.0 281.2 L1240.0 281.2 L1240.9 281.2 L1241.9 281.2 L1242.8 281.2 L1243.8 281.2 L1244.7 281.2 L1245.6 281.2 L1246.6 281.2 L1247.5 281.2 L1248.5 281.2 L1249.4 281.2 L1250.4 281.2 L1251.3 281.2 L1252.3 281.2 L1253.2 281.2 L1254.2 281.2 L1255.1 281.2 L1256.1 281.2 L1257.0 281.2 L1257.9 281.2 L1258.9 281.2 L1259.8 281.2 L1260.8 281.2 L1261.7 281.2 L1262.7 281.2 L1263.6 281.2 L1264.6 281.2 L1265.5 281.2 L1266.5 281.2 L1267.4 281.2 L1268.4 281.2 L1269.3 281.2 L1270.3 281.2 L1271.2 281.2 L1272.1 281.2 L1273.1 281.2 L1274.0 281.2 L1275.0 281.2 L1275.9 281.2 L1276.9 281.2 L1277.8 281.2 L1278.8 281.2 L1279.7 281.1 L1280.7 281.1 L1281.6 281.1 L1282.6 281.1 L1283.5 281.0 L1284.5 281.0 L1285.4 281.0 L1286.3 280.9 L1287.3 280.8 L1288.2 280.8 L1289.2 280.7 L1290.1 280.6 L1291.1 280.4 L1292.0 280.3 L1293.0 280.1 L1293.9 280.0 L1294.9 279.8 L1295.8 279.6 L1296.8 279.4 L1297.7 279.2 L1298.7 278.9 L1299.6 278.7 L1300.5 278.5 L1301.5 278.2 L1302.4 278.0 L1303.4 277.8 L1304.3 277.6 L1305.3 277.5 L1306.2 277.3 L1307.2 277.2 L1308.1 277.1 L1309.1 277.1 L1310.0 277.1 L1311.0 277.1 L1311.9 277.1 L1312.9 277.2 L1313.8 277.4 L1314.7 277.5 L1315.7 277.7 L1316.6 277.9 L1317.6 278.1 L1318.5 278.3 L1319.5 278.5 L1320.4 278.7 L1321.4 278.9 L1322.3 279.2 L1323.3 279.4 L1324.2 279.5 L1325.2 279.7 L1326.1 279.9 L1327.1 280.0 L1328.0 280.1 L1328.9 280.3 L1329.9 280.4 L1330.8 280.4 L1331.8 280.5 L1332.7 280.6 L1333.7 280.6 L1334.6 280.6 L1335.6 280.7 L1336.5 280.7 L1337.5 280.7 L1338.4 280.7 L1339.4 280.7 L1340.3 280.7 L1341.3 280.7 L1342.2 280.6 L1343.1 280.6 L1344.1 280.6 L1345.0 280.6 L1346.0 280.6 L1346.9 280.5 L1347.9 280.5 L1348.8 280.5 L1349.8 280.4 L1350.7 280.4 L1351.7 280.3 L1352.6 280.3 L1353.6 280.3 L1354.5 280.2 L1355.4 280.2 L1356.4 280.1 L1357.3 280.0 L1358.3 280.0 L1359.2 279.9 L1360.2 279.8 L1361.1 279.7 L1362.1 279.7 L1363.0 279.6 L1364.0 279.5 L1364.9 279.3 L1365.9 279.2 L1366.8 279.1 L1367.8 278.9 L1368.7 278.7 L1369.6 278.5 L1370.6 278.3 L1371.5 278.1 L1372.5 277.8 L1373.4 277.4 L1374.4 277.0 L1375.3 276.4 L1376.3 275.7 L1377.2 274.8 L1378.2 273.5 L1379.1 271.9 L1380.1 269.8 L1381.0 267.1 L1382.0 263.6 L1382.9 259.2 L1383.8 253.8 L1384.8 247.4 L1385.7 240.0 L1386.7 231.6 L1387.6 222.5 L1388.6 212.9 L1389.5 203.3 L1390.5 194.3 L1391.4 186.5 L1392.4 180.7 L1393.3 177.6 L1394.3 177.5 L1395.2 180.5 L1396.2 186.2 L1397.1 193.9 L1398.0 202.8 L1399.0 212.3 L1399.9 221.8 L1400.9 230.9 L1401.8 239.2 L1402.8 246.5 L1403.7 252.8 L1404.7 258.0 L1405.6 262.3 L1406.6 265.6 L1407.5 268.2 L1408.5 270.1 L1409.4 271.5 L1410.4 272.5 L1411.3 273.3 L1412.2 273.8 L1413.2 274.1 L1414.1 274.3 L1415.1 274.5 L1416.0 274.6 L1417.0 274.7 L1417.9 274.8 L1418.9 274.8 L1419.8 274.9 L1420.8 275.0 L1421.7 275.2 L1422.7 275.3 L1423.6 275.5 L1424.6 275.7 L1425.5 275.9 L1426.4 276.2 L1427.4 276.4 L1428.3 276.7 L1429.3 277.0 L1430.2 277.2 L1431.2 277.5 L1432.1 277.8 L1433.1 278.1 L1434.0 278.4 L1435.0 278.6 L1435.9 278.9 L1436.9 279.1 L1437.8 279.3 L1438.7 279.5 L1439.7 279.7 L1440.6 279.8 L1441.6 279.9 L1442.5 280.1 L1443.5 280.2 L1444.4 280.3 L1445.4 280.3 L1446.3 280.4 L1447.3 280.5 L1448.2 280.5 L1449.2 280.6 L1450.1 280.6 L1451.1 280.6 L1452.0 280.7 L1452.9 280.7 L1453.9 280.7 L1454.8 280.7 L1455.8 280.8 L1456.7 280.8 L1457.7 280.8 L1458.6 280.8 L1459.6 280.8 L1460.5 280.8 L1461.5 280.8 L1462.4 280.8 L1463.4 280.8 L1464.3 280.9 L1465.3 280.9 L1466.2 280.9 L1467.1 280.9 L1468.1 280.9 L1469.0 280.9 L1470.0 280.9 L1470.9 280.9 L1471.9 280.9 L1472.8 280.9 L1473.8 280.9 L1474.7 280.9 L1475.7 280.9 L1476.6 280.9 L1477.6 280.9 L1478.5 280.9 L1479.5 280.9 L1480.4 280.9 L1481.3 280.9 L1482.3 281.0 L1483.2 281.0 L1484.2 281.0 L1485.1 281.0 L1486.1 281.0 L1487.0 281.0 L1488.0 281.0 L1488.9 281.0 L1489.9 281.0 L1490.8 281.0 L1491.8 281.0 L1492.7 281.0 L1493.7 281.0 L1494.6 281.0 L1495.5 281.0 L1496.5 281.0 L1497.4 281.0 L1498.4 281.0 L1499.3 281.0 L1500.3 281.0 L1501.2 281.0 L1502.2 281.0 L1503.1 281.0 L1504.1 281.0 L1505.0 281.0 L1506.0 281.0 L1506.9 281.0 L1507.9 281.0 L1508.8 281.0 L1509.7 281.0 L1510.7 281.0 L1511.6 281.0 L1512.6 281.0 L1513.5 281.0 L1514.5 281.0 L1515.4 281.0 L1516.4 281.0 L1517.3 281.0 L1518.3 281.0 L1519.2 281.0 L1520.2 281.0 L1521.1 281.0 L1522.1 281.0 L1523.0 281.0 L1523.9 281.0 L1524.9 281.0 L1525.8 281.0 L1526.8 281.0 L1527.7 281.0 L1528.7 281.0 L1529.6 281.0 L1530.6 281.0 L1531.5 281.0 L1532.5 281.0 L1533.4 281.0 L1534.4 281.0 L1535.3 281.0 L1536.2 281.0 L1537.2 281.0 L1538.1 280.9 L1539.1 280.9 L1540.0 280.9 L1541.0 280.9 L1541.9 280.9 L1542.9 280.9 L1543.8 280.9 L1544.8 280.9 L1545.7 280.9 L1546.7 280.9 L1547.6 280.9 L1548.6 280.9 L1549.5 280.9 L1550.4 280.9 L1551.4 280.9 L1552.3 280.9 L1553.3 280.9 L1554.2 280.9 L1555.2 280.9 L1556.1 280.9 L1557.1 280.9 L1558.0 280.9 L1559.0 280.9 L1559.9 280.9 L1560.9 280.9 L1561.8 280.8 L1562.8 280.8 L1563.7 280.8 L1564.6 280.8 L1565.6 280.8 L1566.5 280.8 L1567.5 280.8 L1568.4 280.8 L1569.4 280.8 L1570.3 280.8 L1571.3 280.8 L1572.2 280.8 L1573.2 280.8 L1574.1 280.8 L1575.1 280.7 L1576.0 280.7 L1577.0 280.7 L1577.9 280.7 L1578.8 280.7 L1579.8 280.7 L1580.7 280.7 L1581.7 280.7 L1582.6 280.7 L1583.6 280.6 L1584.5 280.6 L1585.5 280.6 L1586.4 280.6 L1587.4 280.6 L1588.3 280.6 L1589.3 280.6 L1590.2 280.5 L1591.2 280.5 L1592.1 280.5 L1593.0 280.5 L1594.0 280.5 L1594.9 280.5 L1595.9 280.4 L1596.8 280.4 L1597.8 280.4 L1598.7 280.4 L1599.7 280.3 L1600.6 280.3 L1601.6 280.3 L1602.5 280.3 L1603.5 280.2 L1604.4 280.2 L1605.4 280.2 L1606.3 280.1 L1607.2 280.1 L1608.2 280.1 L1609.1 280.0 L1610.1 280.0 L1611.0 279.9 L1612.0 279.9 L1612.9 279.8 L1613.9 279.8 L1614.8 279.7 L1615.8 279.7 L1616.7 279.6 L1617.7 279.6 L1618.6 279.5 L1619.6 279.4 L1620.5 279.3 L1621.4 279.2 L1622.4 279.2 L1623.3 279.1 L1624.3 278.9 L1625.2 278.8 L1626.2 278.7 L1627.1 278.6 L1628.1 278.4 L1629.0 278.3 L1630.0 278.1 L1630.9 277.9 L1631.9 277.6 L1632.8 277.3 L1633.7 277.0 L1634.7 276.5 L1635.6 276.0 L1636.6 275.4 L1637.5 274.5 L1638.5 273.5 L1639.4 272.2 L1640.4 270.6 L1641.3 268.5 L1642.3 266.0 L1643.2 263.0 L1644.2 259.4 L1645.1 255.2 L1646.1 250.4 L1647.0 244.9 L1647.9 239.0 L1648.9 232.5 L1649.8 225.7 L1650.8 218.8 L1651.7 212.0 L1652.7 205.5 L1653.6 199.7 L1654.6 194.8 L1655.5 191.1 L1656.5 188.8 L1657.4 187.7 L1658.4 187.8 L1659.3 188.8 L1660.3 190.5 L1661.2 192.4 L1662.1 194.5 L1663.1 196.5 L1664.0 198.2 L1665.0 199.6 L1665.9 200.9 L1666.9 201.9 L1667.8 202.8 L1668.8 203.8 L1669.7 205.0 L1670.7 206.6 L1671.6 208.6 L1672.6 211.2 L1673.5 214.2 L1674.5 217.8 L1675.4 221.7 L1676.3 225.9 L1677.3 230.2 L1678.2 234.7 L1679.2 239.1 L1680.1 243.4 L1681.1 247.5 L1682.0 251.4 L1683.0 255.0 L1683.9 258.3 L1684.9 261.3 L1685.8 264.0 L1686.8 266.4 L1687.7 268.4 L1688.7 270.2 L1689.6 271.7 L1690.5 272.9 L1691.5 274.0 L1692.4 274.9 L1693.4 275.6 L1694.3 276.2 L1695.3 276.7 L1696.2 277.2 L1697.2 277.5 L1698.1 277.8 L1699.1 278.0 L1700.0 278.2 L1701.0 278.4 L1701.9 278.6 L1702.9 278.7 L1703.8 278.9 L1704.7 279.0 L1705.7 279.1 L1706.6 279.2 L1707.6 279.3 L1708.5 279.3 L1709.5 279.4 L1710.4 279.5 L1711.4 279.5 L1712.3 279.6 L1713.3 279.7 L1714.2 279.7 L1715.2 279.8 L1716.1 279.8 L1717.1 279.9 L1718.0 279.9 L1718.9 279.9 L1719.9 280.0 L1720.8 280.0 L1721.8 280.0 L1722.7 280.1 L1723.7 280.1 L1724.6 280.1 L1725.6 280.1 L1726.5 280.1 L1727.5 280.1 L1728.4 280.1 L1729.4 280.1 L1730.3 280.1 L1731.2 280.0 L1732.2 280.0 L1733.1 279.9 L1734.1 279.9 L1735.0 279.8 L1736.0 279.7 L1736.9 279.5 L1737.9 279.4 L1738.8 279.3 L1739.8 279.1 L1740.7 278.9 L1741.7 278.7 L1742.6 278.5 L1743.6 278.3 L1744.5 278.1 L1745.4 277.9 L1746.4 277.6 L1747.3 277.4 L1748.3 277.3 L1749.2 277.1 L1750.2 276.9 L1751.1 276.8 L1752.1 276.7 L1753.0 276.7 L1754.0 276.7 L1754.9 276.7 L1755.9 276.7 L1756.8 276.8 L1757.8 276.9 L1758.7 277.1 L1759.6 277.2 L1760.6 277.4 L1761.5 277.6 L1762.5 277.8 L1763.4 278.1 L1764.4 278.3 L1765.3 278.5 L1766.3 278.7 L1767.2 278.9 L1768.2 279.1 L1769.1 279.3 L1770.1 279.4 L1771.0 279.6 L1772.0 279.7 L1772.9 279.7 L1773.8 279.8 L1774.8 279.8 L1775.7 279.8 L1776.7 279.7 L1777.6 279.6 L1778.6 279.5 L1779.5 279.3 L1780.5 279.1 L1781.4 278.8 L1782.4 278.5 L1783.3 278.2 L1784.3 277.9 L1785.2 277.5 L1786.2 277.1 L1787.1 276.6 L1788.0 276.2 L1789.0 275.7 L1789.9 275.3 L1790.9 274.8 L1791.8 274.4 L1792.8 274.0 L1793.7 273.7 L1794.7 273.4 L1795.6 273.2 L1796.6 273.0 L1797.5 272.9 L1798.5 272.8 L1799.4 272.8 L1800.4 272.9 L1801.3 273.1 L1802.2 273.3 L1803.2 273.6 L1804.1 273.9 L1805.1 274.3 L1806.0 274.7 L1807.0 275.2 L1807.9 275.6 L1808.9 276.1 L1809.8 276.5 L1810.8 277.0 L1811.7 277.4 L1812.7 277.8 L1813.6 278.2 L1814.6 278.5 L1815.5 278.9 L1816.4 279.2 L1817.4 279.4 L1818.3 279.6 L1819.3 279.8 L1820.2 280.0 L1821.2 280.2 L1822.1 280.3 L1823.1 280.4 L1824.0 280.5 L1825.0 280.5 L1825.9 280.6 L1826.9 280.6 L1827.8 280.7 L1828.7 280.7 L1829.7 280.7 L1830.6 280.7 L1831.6 280.7 L1832.5 280.7 L1833.5 280.8 L1834.4 280.8 L1835.4 280.8 L1836.3 280.8 L1837.3 280.7 L1838.2 280.7 L1839.2 280.7 L1840.1 280.7 L1841.1 280.7 L1842.0 280.7 L1842.9 280.7 L1843.9 280.7 L1844.8 280.7 L1845.8 280.7 L1846.7 280.7 L1847.7 280.7 L1848.6 280.7 L1849.6 280.7 L1850.5 280.7 L1851.5 280.7 L1852.4 280.7 L1853.4 280.6 L1854.3 280.6 L1855.3 280.6 L1856.2 280.6 L1857.1 280.6 L1858.1 280.6 L1859.0 280.6 L1860.0 280.6 L1860.9 280.6 L1861.9 280.5 L1862.8 280.5 L1863.8 280.5 L1864.7 280.5 L1865.7 280.5 L1866.6 280.5 L1867.6 280.4 L1868.5 280.4 L1869.5 280.4 L1870.4 280.4 L1871.3 280.3 L1872.3 280.3 L1873.2 280.3 L1874.2 280.3 L1875.1 280.2 L1876.1 280.2 L1877.0 280.2 L1878.0 280.1 L1878.9 280.1 L1879.9 280.0 L1880.8 280.0 L1881.8 279.9 L1882.7 279.9 L1883.7 279.8 L1884.6 279.7 L1885.5 279.6 L1886.5 279.4 L1887.4 279.3 L1888.4 279.1 L1889.3 278.8 L1890.3 278.5 L1891.2 278.1 L1892.2 277.6 L1893.1 277.0 L1894.1 276.2 L1895.0 275.3 L1896.0 274.2 L1896.9 272.8 L1897.9 271.3 L1898.8 269.5 L1899.7 267.5 L1900.7 265.3 L1901.6 262.8 L1902.6 260.1 L1903.5 257.3 L1904.5 254.4 L1905.4 251.4 L1906.4 248.5 L1907.3 245.6 L1908.3 243.0 L1909.2 240.7 L1910.2 238.8 L1911.1 237.4 L1912.0 236.4 L1913.0 236.0 L1913.9 236.1 L1914.9 236.6 L1915.8 237.5 L1916.8 238.5 L1917.7 239.7 L1918.7 240.8 L1919.6 241.7 L1920.6 242.4 L1921.5 242.7 L1922.5 242.7 L1923.4 242.2 L1924.4 241.3 L1925.3 240.0 L1926.2 238.3 L1927.2 236.5 L1928.1 234.4 L1929.1 232.3 L1930.0 230.4 L1931.0 228.7 L1931.9 227.5 L1932.9 226.8 L1933.8 226.7 L1934.8 227.3 L1935.7 228.6 L1936.7 230.5 L1937.6 233.0 L1938.6 236.0 L1939.5 239.3 L1940.4 242.8 L1941.4 246.4 L1942.3 250.1 L1943.3 253.6 L1944.2 257.0 L1945.2 260.2 L1946.1 263.1 L1947.1 265.8 L1948.0 268.1 L1949.0 270.1 L1949.9 271.9 L1950.9 273.4 L1951.8 274.7 L1952.8 275.7 L1953.7 276.6 L1954.6 277.3 L1955.6 277.8 L1956.5 278.3 L1957.5 278.6 L1958.4 278.9 L1959.4 279.1 L1960.3 279.3 L1961.3 279.4 L1962.2 279.6 L1963.2 279.7 L1964.1 279.8 L1965.1 279.8 L1966.0 279.9 L1967.0 279.9 L1967.9 280.0 L1968.8 280.0 L1969.8 280.1 L1970.7 280.1 L1971.7 280.2 L1972.6 280.2 L1973.6 280.2 L1974.5 280.3 L1975.5 280.3 L1976.4 280.3 L1977.4 280.3 L1978.3 280.4 L1979.3 280.4 L1980.2 280.4 L1981.2 280.4 L1982.1 280.5 L1983.0 280.5 L1984.0 280.5 L1984.9 280.5 L1985.9 280.5 L1986.8 280.5 L1987.8 280.5 L1988.7 280.6 L1989.7 280.6 L1990.6 280.6 L1991.6 280.6 L1992.5 280.6 L1993.5 280.6 L1994.4 280.6 L1995.4 280.6 L1996.3 280.6 L1997.2 280.7 L1998.2 280.7 L1999.1 280.7 L2000.1 280.7 L2001.0 280.7 L2002.0 280.7 L2002.9 280.7 L2003.9 280.7 L2004.8 280.7 L2005.8 280.7 L2006.7 280.7 L2007.7 280.7 L2008.6 280.7 L2009.5 280.7 L2010.5 280.7 L2011.4 280.8 L2012.4 280.8 L2013.3 280.8 L2014.3 280.8 L2015.2 280.8 L2016.2 280.8 L2017.1 280.8 L2018.1 280.8 L2019.0 280.8 L2020.0 280.8 L2020.9 280.8 L2021.9 280.8 L2022.8 280.8 L2023.7 280.8 L2024.7 280.8 L2025.6 280.8 L2026.6 280.8 L2027.5 280.8 L2028.5 280.8 L2029.4 280.8 L2030.4 280.8 L2031.3 280.8 L2032.3 280.8 L2033.2 280.8 L2034.2 280.8 L2035.1 280.8 L2036.1 280.8 L2037.0 280.8 L2037.9 280.8 L2038.9 280.8 L2039.8 280.8 L2040.8 280.8 L2041.7 280.8 L2042.7 280.8 L2043.6 280.8 L2044.6 280.9 L2045.5 280.9 L2046.5 280.9 L2047.4 280.9 L2048.4 280.9 L2049.3 280.9 L2050.3 280.9 L2051.2 280.9 L2052.1 280.9" stroke="#f00"/>
</g>
<text transform="translate(389.5 917.5) rotate(-90)" font-family="Liberation Sans, Arial, sans-serif" font-weight="bold" font-size="60">(011)</text>
<text transform="translate(571.9 875.0) rotate(-90)" font-family="Liberation Sans, Arial, sans-serif" font-weight="bold" font-size="60">(-111)</text>
<text transform="translate(738.9 891.0) rotate(-90)" font-family="Liberation Sans, Arial, sans-serif" font-weight="bold" font-size="60">(111)</text>
<text transform="translate(871.3 870.5) rotate(-90)" font-family="Liberation Sans, Arial, sans-serif" font-weight="bold" font-size="60">(002)</text>
<text transform="translate(942.0 880.5) rotate(-90)" font-family="Liberation Sans, Arial, sans-serif" font-weight="bold" font-size="60">(020)</text>
<text transform="translate(1003.3 889.0) rotate(-90)" font-family="Liberation Sans, Arial, sans-serif" font-weight="bold" font-size="60">(200)</text>
<text transform="translate(1126.0 927.0) rotate(-90)" font-family="Liberation Sans, Arial, sans-serif" font-weight="bold" font-size="60">(021)</text>
<text transform="translate(1216.3 932.5) rotate(-90)" font-family="Liberation Sans, Arial, sans-serif" font-weight="bold" font-size="60">(-211)</text>
<text transform="translate(1626.9 920.0) rotate(-90)" font-family="Liberation Sans, Arial, sans-serif" font-weight="bold" font-size="60">(022)</text>
<text transform="translate(1692.1 908.5) rotate(-90)" font-family="Liberation Sans, Arial, sans-serif" font-weight="bold" font-size="60">(220)</text>
<text transform="translate(468.7 555.0) rotate(-90)" font-family="Liberation Sans, Arial, sans-serif" font-weight="bold" font-size="60">(330)</text>
<text transform="translate(704.0 521.0) rotate(-90)" font-family="Liberation Sans, Arial, sans-serif" font-weight="bold" font-size="60">(131)</text>
<text transform="translate(855.9 533.5) rotate(-90)" font-family="Liberation Sans, Arial, sans-serif" font-weight="bold" font-size="60">(330)</text>
<text transform="translate(998.9 563.3) rotate(-90)" font-family="Liberation Sans, Arial, sans-serif" font-weight="bold" font-size="60">(131)</text>
<text transform="translate(1355.6 560.0) rotate(-90)" font-family="Liberation Sans, Arial, sans-serif" font-weight="bold" font-size="60">(640)</text>
<text transform="translate(1619.6 535.7) rotate(-90)" font-family="Liberation Sans, Arial, sans-serif" font-weight="bold" font-size="60">(204)</text>
<text transform="translate(238.2 596) rotate(-90)" font-family="Liberation Sans, Arial, sans-serif" font-weight="bold" font-size="60">(001) Ta<tspan font-size="36" dy="23">2</tspan><tspan dy="-23">O</tspan><tspan font-size="36" dy="23">5</tspan></text>
<text x="1856.3" y="924" font-family="Liberation Serif, Times New Roman, serif" font-size="90.5">(a)</text>
<text x="1841.3" y="525" font-family="Liberation Serif, Times New Roman, serif" font-size="90.5">(b)</text>
<text x="1832.6" y="235.7" font-family="Liberation Serif, Times New Roman, serif" font-size="90.5">(c)</text>
<text x="1271" y="1080.9" fill="#f00" font-family="Liberation Serif, Times New Roman, serif" font-size="71">Δ</text>
<text x="1337.5" y="1080.9" fill="#f00" font-family="Liberation Sans, Arial, sans-serif" font-size="75" xml:space="preserve">TaON   <tspan dx="4">70-1193</tspan></text>
<text x="1273" y="1193.7" font-family="Liberation Serif, Times New Roman, serif" font-size="73">o</text>
<text x="1332" y="1193.7" font-family="Liberation Sans, Arial, sans-serif" font-size="75" xml:space="preserve">ZnTa<tspan font-size="45" dy="29">2</tspan><tspan dy="-29" dx="1">O</tspan><tspan font-size="45" dy="29">6</tspan><tspan dy="-29" dx="1.3"> 39-1484</tspan></text>
<text x="158.5" y="1495.5" text-anchor="middle" font-family="Liberation Serif, Times New Roman, serif" font-size="77">20</text>
<text x="395.1" y="1495.5" text-anchor="middle" font-family="Liberation Serif, Times New Roman, serif" font-size="77">25</text>
<text x="631.8" y="1495.5" text-anchor="middle" font-family="Liberation Serif, Times New Roman, serif" font-size="77">30</text>
<text x="868.4" y="1495.5" text-anchor="middle" font-family="Liberation Serif, Times New Roman, serif" font-size="77">35</text>
<text x="1105.1" y="1495.5" text-anchor="middle" font-family="Liberation Serif, Times New Roman, serif" font-size="77">40</text>
<text x="1341.8" y="1495.5" text-anchor="middle" font-family="Liberation Serif, Times New Roman, serif" font-size="77">45</text>
<text x="1578.4" y="1495.5" text-anchor="middle" font-family="Liberation Serif, Times New Roman, serif" font-size="77">50</text>
<text x="1815.0" y="1495.5" text-anchor="middle" font-family="Liberation Serif, Times New Roman, serif" font-size="77">55</text>
<text x="2051.7" y="1495.5" text-anchor="middle" font-family="Liberation Serif, Times New Roman, serif" font-size="77">60</text>
<text transform="translate(103.3 940) rotate(-90)" font-family="Liberation Serif, Times New Roman, serif" font-size="107">Intensity, a.u</text>
<text x="992" y="1638.2" font-family="Liberation Sans, Arial, sans-serif" font-size="109">2</text>
<text transform="translate(1050.4 1637.7) scale(1.126 1)" font-family="Liberation Serif, Times New Roman, serif" font-size="95">θ</text>
<text transform="translate(1103 1639) scale(0.9 1)" font-family="Liberation Serif, Times New Roman, serif" font-size="95">/</text>
<text x="1130.8" y="1632.6" font-family="Liberation Serif, Times New Roman, serif" font-size="92">°</text>
</svg>
</body></html>
